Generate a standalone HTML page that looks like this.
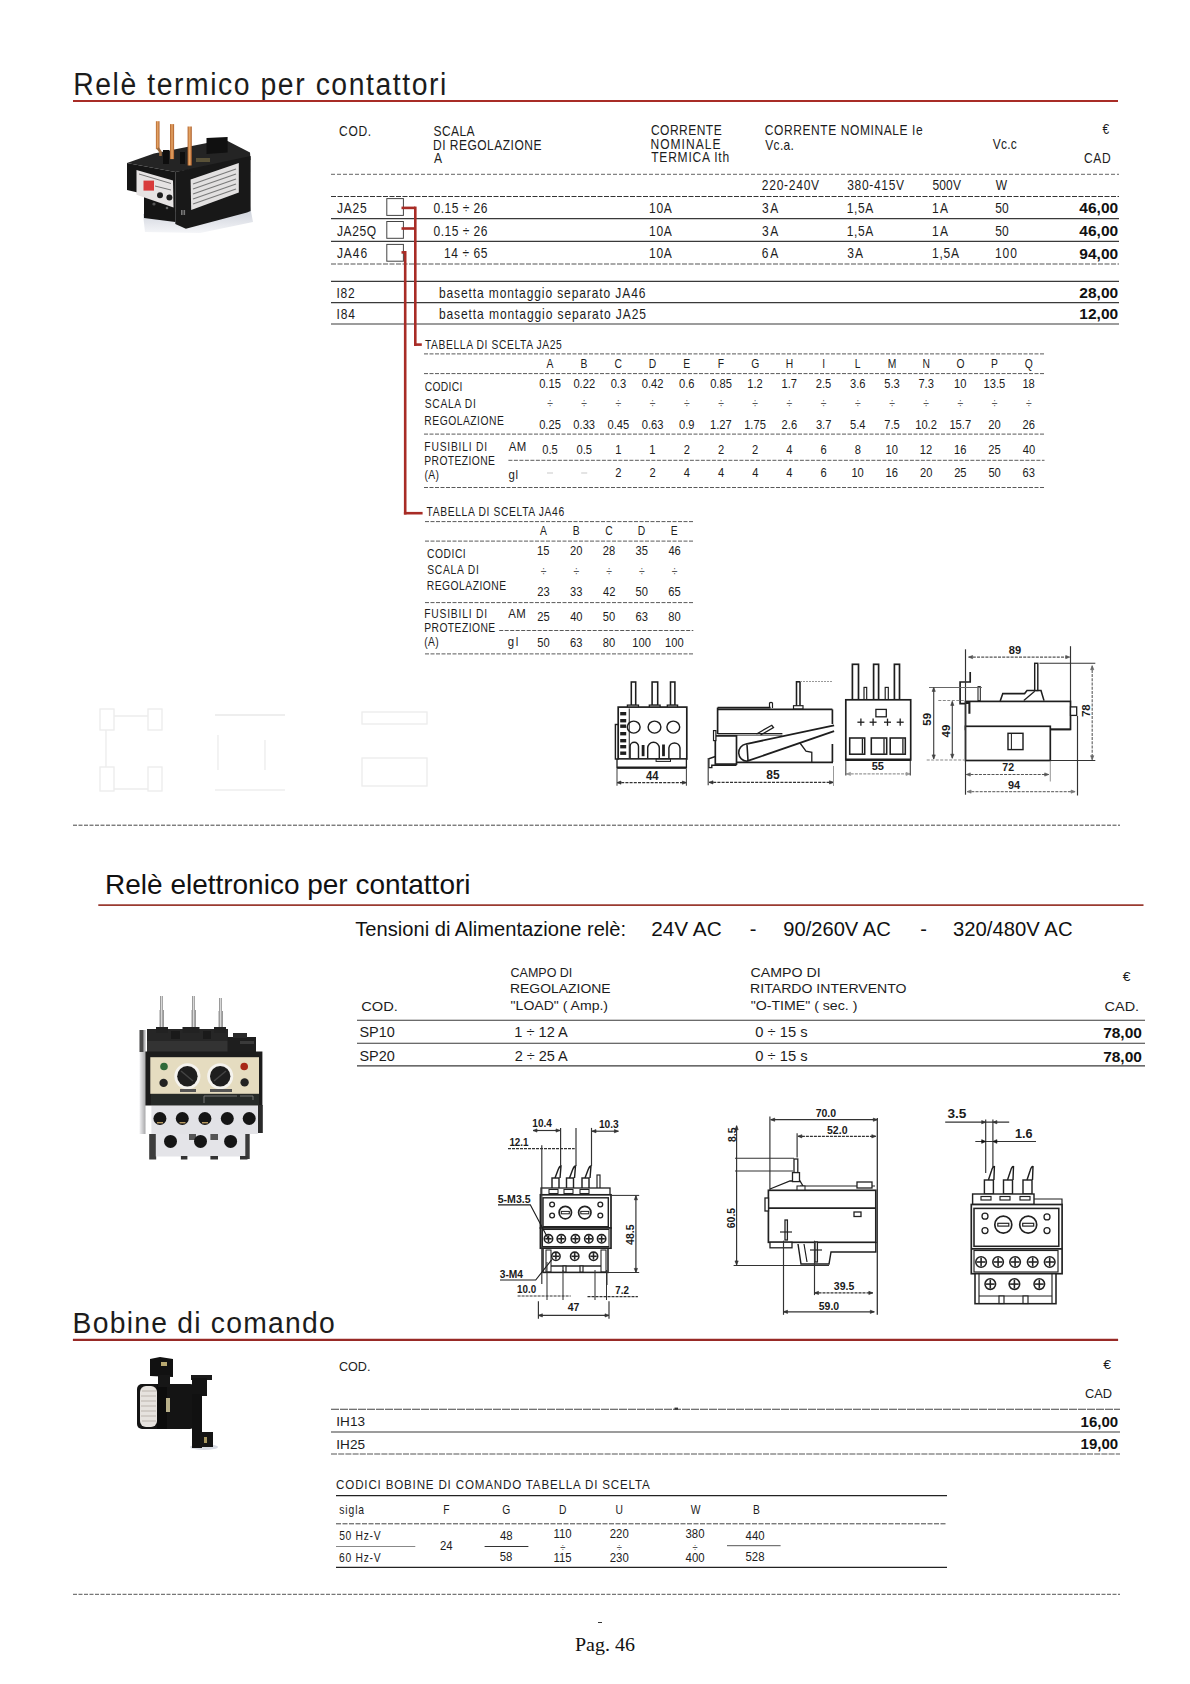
<!DOCTYPE html>
<html lang="it"><head><meta charset="utf-8">
<title>Pag. 46 - Relè termico per contattori</title>
<style>
html,body{margin:0;padding:0;background:#fff;}
body{width:1190px;height:1684px;overflow:hidden;position:relative;font-family:"Liberation Sans",sans-serif;}
svg{position:absolute;left:0;top:0;display:block;}
</style></head><body>
<svg width="1190" height="1684" viewBox="0 0 1190 1684">
<rect x="0" y="0" width="1190" height="1684" fill="#fff"/>
<text transform="translate(73.26 94.80) scale(0.900 1)" style='font-family:"Liberation Sans", sans-serif;font-size:31.50px;letter-spacing:1.74px;' fill="#1c1c1c">Relè termico per contattori</text>
<line x1="73.0" y1="101.0" x2="1118.0" y2="101.0" stroke="#a82c26" stroke-width="2.00"/>
<text transform="translate(339.10 136.20) scale(0.860 1)" style='font-family:"Liberation Sans", sans-serif;font-size:14.00px;letter-spacing:0.73px;' fill="#1c1c1c">COD.</text>
<text transform="translate(433.46 136.20) scale(0.860 1)" style='font-family:"Liberation Sans", sans-serif;font-size:14.00px;letter-spacing:0.46px;' fill="#1c1c1c">SCALA</text>
<text transform="translate(433.01 149.50) scale(0.860 1)" style='font-family:"Liberation Sans", sans-serif;font-size:14.00px;letter-spacing:0.55px;' fill="#1c1c1c">DI REGOLAZIONE</text>
<text transform="translate(433.97 162.90) scale(0.860 1)" style='font-family:"Liberation Sans", sans-serif;font-size:14.00px;' fill="#1c1c1c">A</text>
<text transform="translate(650.90 135.20) scale(0.860 1)" style='font-family:"Liberation Sans", sans-serif;font-size:14.00px;letter-spacing:0.55px;' fill="#1c1c1c">CORRENTE</text>
<text transform="translate(650.51 148.60) scale(0.860 1)" style='font-family:"Liberation Sans", sans-serif;font-size:14.00px;letter-spacing:1.18px;' fill="#1c1c1c">NOMINALE</text>
<text transform="translate(651.23 162.40) scale(0.860 1)" style='font-family:"Liberation Sans", sans-serif;font-size:14.00px;letter-spacing:0.90px;' fill="#1c1c1c">TERMICA Ith</text>
<text transform="translate(764.80 135.20) scale(0.860 1)" style='font-family:"Liberation Sans", sans-serif;font-size:14.00px;letter-spacing:0.66px;' fill="#1c1c1c">CORRENTE  NOMINALE Ie</text>
<text transform="translate(765.34 149.60) scale(0.860 1)" style='font-family:"Liberation Sans", sans-serif;font-size:14.00px;letter-spacing:0.30px;' fill="#1c1c1c">Vc.a.</text>
<text transform="translate(992.74 148.50) scale(0.860 1)" style='font-family:"Liberation Sans", sans-serif;font-size:14.00px;letter-spacing:0.22px;' fill="#1c1c1c">Vc.c</text>
<text transform="translate(1102.41 134.40) scale(0.860 1)" style='font-family:"Liberation Sans", sans-serif;font-size:14.00px;' fill="#1c1c1c">€</text>
<text transform="translate(1083.90 162.80) scale(0.860 1)" style='font-family:"Liberation Sans", sans-serif;font-size:14.00px;letter-spacing:0.84px;' fill="#1c1c1c">CAD</text>
<text transform="translate(761.80 190.20) scale(0.860 1)" style='font-family:"Liberation Sans", sans-serif;font-size:14.00px;letter-spacing:0.85px;' fill="#1c1c1c">220-240V</text>
<text transform="translate(847.15 190.20) scale(0.860 1)" style='font-family:"Liberation Sans", sans-serif;font-size:14.00px;letter-spacing:0.80px;' fill="#1c1c1c">380-415V</text>
<text transform="translate(932.42 190.20) scale(0.860 1)" style='font-family:"Liberation Sans", sans-serif;font-size:14.00px;letter-spacing:0.17px;' fill="#1c1c1c">500V</text>
<text transform="translate(995.74 190.20) scale(0.860 1)" style='font-family:"Liberation Sans", sans-serif;font-size:14.00px;' fill="#1c1c1c">W</text>
<text transform="translate(336.92 212.60) scale(0.860 1)" style='font-family:"Liberation Sans", sans-serif;font-size:14.00px;letter-spacing:0.91px;' fill="#1c1c1c">JA25</text>
<text transform="translate(433.52 212.60) scale(0.860 1)" style='font-family:"Liberation Sans", sans-serif;font-size:14.00px;letter-spacing:0.56px;' fill="#1c1c1c">0.15 ÷ 26</text>
<text transform="translate(649.10 212.60) scale(0.860 1)" style='font-family:"Liberation Sans", sans-serif;font-size:14.00px;letter-spacing:0.70px;' fill="#1c1c1c">10A</text>
<text transform="translate(761.95 212.60) scale(0.860 1)" style='font-family:"Liberation Sans", sans-serif;font-size:14.00px;letter-spacing:1.93px;' fill="#1c1c1c">3A</text>
<text transform="translate(846.70 212.60) scale(0.860 1)" style='font-family:"Liberation Sans", sans-serif;font-size:14.00px;letter-spacing:0.72px;' fill="#1c1c1c">1,5A</text>
<text transform="translate(932.10 212.60) scale(0.860 1)" style='font-family:"Liberation Sans", sans-serif;font-size:14.00px;letter-spacing:1.41px;' fill="#1c1c1c">1A</text>
<text transform="translate(995.32 212.60) scale(0.860 1)" style='font-family:"Liberation Sans", sans-serif;font-size:14.00px;letter-spacing:0.08px;' fill="#1c1c1c">50</text>
<text x="1079.33" y="212.90" style='font-family:"Liberation Sans", sans-serif;font-size:15.50px;font-weight:bold;' fill="#111">46,00</text>
<text transform="translate(336.92 235.60) scale(0.860 1)" style='font-family:"Liberation Sans", sans-serif;font-size:14.00px;letter-spacing:0.68px;' fill="#1c1c1c">JA25Q</text>
<text transform="translate(433.52 235.60) scale(0.860 1)" style='font-family:"Liberation Sans", sans-serif;font-size:14.00px;letter-spacing:0.56px;' fill="#1c1c1c">0.15 ÷ 26</text>
<text transform="translate(649.10 235.60) scale(0.860 1)" style='font-family:"Liberation Sans", sans-serif;font-size:14.00px;letter-spacing:0.70px;' fill="#1c1c1c">10A</text>
<text transform="translate(761.95 235.60) scale(0.860 1)" style='font-family:"Liberation Sans", sans-serif;font-size:14.00px;letter-spacing:1.93px;' fill="#1c1c1c">3A</text>
<text transform="translate(846.70 235.60) scale(0.860 1)" style='font-family:"Liberation Sans", sans-serif;font-size:14.00px;letter-spacing:0.72px;' fill="#1c1c1c">1,5A</text>
<text transform="translate(932.10 235.60) scale(0.860 1)" style='font-family:"Liberation Sans", sans-serif;font-size:14.00px;letter-spacing:1.41px;' fill="#1c1c1c">1A</text>
<text transform="translate(995.32 235.60) scale(0.860 1)" style='font-family:"Liberation Sans", sans-serif;font-size:14.00px;letter-spacing:0.08px;' fill="#1c1c1c">50</text>
<text x="1079.33" y="235.90" style='font-family:"Liberation Sans", sans-serif;font-size:15.50px;font-weight:bold;' fill="#111">46,00</text>
<text transform="translate(336.92 258.30) scale(0.860 1)" style='font-family:"Liberation Sans", sans-serif;font-size:14.00px;letter-spacing:1.07px;' fill="#1c1c1c">JA46</text>
<text transform="translate(444.10 258.30) scale(0.860 1)" style='font-family:"Liberation Sans", sans-serif;font-size:14.00px;letter-spacing:0.64px;' fill="#1c1c1c">14 ÷ 65</text>
<text transform="translate(649.10 258.30) scale(0.860 1)" style='font-family:"Liberation Sans", sans-serif;font-size:14.00px;letter-spacing:0.70px;' fill="#1c1c1c">10A</text>
<text transform="translate(761.80 258.30) scale(0.860 1)" style='font-family:"Liberation Sans", sans-serif;font-size:14.00px;letter-spacing:2.11px;' fill="#1c1c1c">6A</text>
<text transform="translate(847.15 258.30) scale(0.860 1)" style='font-family:"Liberation Sans", sans-serif;font-size:14.00px;letter-spacing:1.35px;' fill="#1c1c1c">3A</text>
<text transform="translate(932.10 258.30) scale(0.860 1)" style='font-family:"Liberation Sans", sans-serif;font-size:14.00px;letter-spacing:0.80px;' fill="#1c1c1c">1,5A</text>
<text transform="translate(994.90 258.30) scale(0.860 1)" style='font-family:"Liberation Sans", sans-serif;font-size:14.00px;letter-spacing:1.09px;' fill="#1c1c1c">100</text>
<text x="1079.33" y="258.60" style='font-family:"Liberation Sans", sans-serif;font-size:15.50px;font-weight:bold;' fill="#111">94,00</text>
<text transform="translate(336.49 297.50) scale(0.860 1)" style='font-family:"Liberation Sans", sans-serif;font-size:14.00px;letter-spacing:0.80px;' fill="#1c1c1c">I82</text>
<text transform="translate(336.49 318.60) scale(0.860 1)" style='font-family:"Liberation Sans", sans-serif;font-size:14.00px;letter-spacing:0.94px;' fill="#1c1c1c">I84</text>
<text transform="translate(438.92 297.50) scale(0.860 1)" style='font-family:"Liberation Sans", sans-serif;font-size:14.00px;letter-spacing:1.03px;' fill="#1c1c1c">basetta montaggio separato JA46</text>
<text transform="translate(438.92 318.60) scale(0.860 1)" style='font-family:"Liberation Sans", sans-serif;font-size:14.00px;letter-spacing:1.05px;' fill="#1c1c1c">basetta montaggio separato JA25</text>
<text x="1079.33" y="297.80" style='font-family:"Liberation Sans", sans-serif;font-size:15.50px;font-weight:bold;' fill="#111">28,00</text>
<text x="1079.33" y="319.00" style='font-family:"Liberation Sans", sans-serif;font-size:15.50px;font-weight:bold;' fill="#111">12,00</text>
<line x1="331.0" y1="174.4" x2="1119.0" y2="174.4" stroke="#666" stroke-width="1.10" stroke-dasharray="4 2" opacity="0.8"/>
<line x1="331.0" y1="196.5" x2="1119.0" y2="196.5" stroke="#333" stroke-width="1.10" stroke-dasharray="5 1.5" opacity="1"/>
<line x1="331.0" y1="218.6" x2="1119.0" y2="218.6" stroke="#3a3a3a" stroke-width="1.10" opacity="1"/>
<line x1="331.0" y1="241.4" x2="1119.0" y2="241.4" stroke="#3a3a3a" stroke-width="1.10" opacity="1"/>
<line x1="331.0" y1="264.0" x2="1119.0" y2="264.0" stroke="#555" stroke-width="1.10" stroke-dasharray="5 1.5" opacity="1"/>
<line x1="331.0" y1="281.4" x2="1119.0" y2="281.4" stroke="#3a3a3a" stroke-width="1.10" opacity="1"/>
<line x1="331.0" y1="302.6" x2="1119.0" y2="302.6" stroke="#3a3a3a" stroke-width="1.10" opacity="1"/>
<line x1="331.0" y1="324.0" x2="1119.0" y2="324.0" stroke="#3a3a3a" stroke-width="1.10" opacity="1"/>
<rect x="386.8" y="198.6" width="16.6" height="16.8" fill="none" stroke="#444" stroke-width="1.00" />
<rect x="386.8" y="221.5" width="16.6" height="16.8" fill="none" stroke="#444" stroke-width="1.00" />
<rect x="386.8" y="244.4" width="16.6" height="16.8" fill="none" stroke="#444" stroke-width="1.00" />
<line x1="401.5" y1="207.9" x2="415.3" y2="207.9" stroke="#a82c26" stroke-width="2.60"/>
<line x1="401.5" y1="228.5" x2="415.3" y2="228.5" stroke="#a82c26" stroke-width="2.60"/>
<line x1="415.3" y1="206.6" x2="415.3" y2="345.9" stroke="#a82c26" stroke-width="2.60"/>
<line x1="414.0" y1="344.6" x2="421.8" y2="344.6" stroke="#a82c26" stroke-width="2.60"/>
<line x1="401.5" y1="252.4" x2="405.2" y2="252.4" stroke="#a82c26" stroke-width="2.60"/>
<line x1="405.2" y1="251.1" x2="405.2" y2="514.5" stroke="#a82c26" stroke-width="2.60"/>
<line x1="403.9" y1="513.2" x2="422.6" y2="513.2" stroke="#a82c26" stroke-width="2.60"/>
<text transform="translate(424.97 348.90) scale(0.860 1)" style='font-family:"Liberation Sans", sans-serif;font-size:12.00px;letter-spacing:0.69px;' fill="#1c1c1c">TABELLA DI SCELTA JA25</text>
<line x1="424.0" y1="353.9" x2="1044.5" y2="353.9" stroke="#5a5a5a" stroke-width="1.00" stroke-dasharray="4 1.5"/>
<line x1="424.0" y1="373.6" x2="1044.5" y2="373.6" stroke="#5a5a5a" stroke-width="1.00" stroke-dasharray="4 1.5"/>
<line x1="424.0" y1="434.1" x2="1044.5" y2="434.1" stroke="#5a5a5a" stroke-width="1.00" stroke-dasharray="4 1.5"/>
<line x1="508.4" y1="460.3" x2="1044.5" y2="460.3" stroke="#5a5a5a" stroke-width="1.00" stroke-dasharray="4 1.5"/>
<line x1="424.0" y1="487.5" x2="1044.5" y2="487.5" stroke="#5a5a5a" stroke-width="1.00" stroke-dasharray="4 1.5"/>
<text transform="translate(546.56 368.30) scale(0.860 1)" style='font-family:"Liberation Sans", sans-serif;font-size:12.00px;' fill="#1c1c1c">A</text>
<text transform="translate(580.60 368.30) scale(0.860 1)" style='font-family:"Liberation Sans", sans-serif;font-size:12.00px;' fill="#1c1c1c">B</text>
<text transform="translate(614.61 368.30) scale(0.860 1)" style='font-family:"Liberation Sans", sans-serif;font-size:12.00px;' fill="#1c1c1c">C</text>
<text transform="translate(648.69 368.30) scale(0.860 1)" style='font-family:"Liberation Sans", sans-serif;font-size:12.00px;' fill="#1c1c1c">D</text>
<text transform="translate(683.15 368.30) scale(0.860 1)" style='font-family:"Liberation Sans", sans-serif;font-size:12.00px;' fill="#1c1c1c">E</text>
<text transform="translate(717.63 368.30) scale(0.860 1)" style='font-family:"Liberation Sans", sans-serif;font-size:12.00px;' fill="#1c1c1c">F</text>
<text transform="translate(751.32 368.30) scale(0.860 1)" style='font-family:"Liberation Sans", sans-serif;font-size:12.00px;' fill="#1c1c1c">G</text>
<text transform="translate(785.67 368.30) scale(0.860 1)" style='font-family:"Liberation Sans", sans-serif;font-size:12.00px;' fill="#1c1c1c">H</text>
<text transform="translate(822.17 368.30) scale(0.860 1)" style='font-family:"Liberation Sans", sans-serif;font-size:12.00px;' fill="#1c1c1c">I</text>
<text transform="translate(854.68 368.30) scale(0.860 1)" style='font-family:"Liberation Sans", sans-serif;font-size:12.00px;' fill="#1c1c1c">L</text>
<text transform="translate(887.70 368.30) scale(0.860 1)" style='font-family:"Liberation Sans", sans-serif;font-size:12.00px;' fill="#1c1c1c">M</text>
<text transform="translate(922.47 368.30) scale(0.860 1)" style='font-family:"Liberation Sans", sans-serif;font-size:12.00px;' fill="#1c1c1c">N</text>
<text transform="translate(956.39 368.30) scale(0.860 1)" style='font-family:"Liberation Sans", sans-serif;font-size:12.00px;' fill="#1c1c1c">O</text>
<text transform="translate(991.00 368.30) scale(0.860 1)" style='font-family:"Liberation Sans", sans-serif;font-size:12.00px;' fill="#1c1c1c">P</text>
<text transform="translate(1024.79 368.30) scale(0.860 1)" style='font-family:"Liberation Sans", sans-serif;font-size:12.00px;' fill="#1c1c1c">Q</text>
<text transform="translate(539.15 388.40) scale(0.930 1)" style='font-family:"Liberation Sans", sans-serif;font-size:12.00px;' fill="#1c1c1c">0.15</text>
<text transform="translate(547.16 408.30) scale(0.860 1)" style='font-family:"Liberation Sans", sans-serif;font-size:12.00px;' fill="#555">÷</text>
<text transform="translate(539.15 428.80) scale(0.930 1)" style='font-family:"Liberation Sans", sans-serif;font-size:12.00px;' fill="#1c1c1c">0.25</text>
<text transform="translate(542.24 453.50) scale(0.930 1)" style='font-family:"Liberation Sans", sans-serif;font-size:12.00px;' fill="#1c1c1c">0.5</text>
<line x1="547.0" y1="473.0" x2="553.0" y2="473.0" stroke="#bbb" stroke-width="0.80"/>
<text transform="translate(573.40 388.40) scale(0.930 1)" style='font-family:"Liberation Sans", sans-serif;font-size:12.00px;' fill="#1c1c1c">0.22</text>
<text transform="translate(581.36 408.30) scale(0.860 1)" style='font-family:"Liberation Sans", sans-serif;font-size:12.00px;' fill="#555">÷</text>
<text transform="translate(573.36 428.80) scale(0.930 1)" style='font-family:"Liberation Sans", sans-serif;font-size:12.00px;' fill="#1c1c1c">0.33</text>
<text transform="translate(576.44 453.50) scale(0.930 1)" style='font-family:"Liberation Sans", sans-serif;font-size:12.00px;' fill="#1c1c1c">0.5</text>
<line x1="581.2" y1="473.0" x2="587.2" y2="473.0" stroke="#bbb" stroke-width="0.80"/>
<text transform="translate(610.66 388.40) scale(0.930 1)" style='font-family:"Liberation Sans", sans-serif;font-size:12.00px;' fill="#1c1c1c">0.3</text>
<text transform="translate(615.56 408.30) scale(0.860 1)" style='font-family:"Liberation Sans", sans-serif;font-size:12.00px;' fill="#555">÷</text>
<text transform="translate(607.55 428.80) scale(0.930 1)" style='font-family:"Liberation Sans", sans-serif;font-size:12.00px;' fill="#1c1c1c">0.45</text>
<text transform="translate(615.15 453.50) scale(0.930 1)" style='font-family:"Liberation Sans", sans-serif;font-size:12.00px;' fill="#1c1c1c">1</text>
<text transform="translate(615.30 476.80) scale(0.930 1)" style='font-family:"Liberation Sans", sans-serif;font-size:12.00px;' fill="#1c1c1c">2</text>
<text transform="translate(641.80 388.40) scale(0.930 1)" style='font-family:"Liberation Sans", sans-serif;font-size:12.00px;' fill="#1c1c1c">0.42</text>
<text transform="translate(649.76 408.30) scale(0.860 1)" style='font-family:"Liberation Sans", sans-serif;font-size:12.00px;' fill="#555">÷</text>
<text transform="translate(641.76 428.80) scale(0.930 1)" style='font-family:"Liberation Sans", sans-serif;font-size:12.00px;' fill="#1c1c1c">0.63</text>
<text transform="translate(649.35 453.50) scale(0.930 1)" style='font-family:"Liberation Sans", sans-serif;font-size:12.00px;' fill="#1c1c1c">1</text>
<text transform="translate(649.50 476.80) scale(0.930 1)" style='font-family:"Liberation Sans", sans-serif;font-size:12.00px;' fill="#1c1c1c">2</text>
<text transform="translate(679.06 388.40) scale(0.930 1)" style='font-family:"Liberation Sans", sans-serif;font-size:12.00px;' fill="#1c1c1c">0.6</text>
<text transform="translate(683.96 408.30) scale(0.860 1)" style='font-family:"Liberation Sans", sans-serif;font-size:12.00px;' fill="#555">÷</text>
<text transform="translate(679.07 428.80) scale(0.930 1)" style='font-family:"Liberation Sans", sans-serif;font-size:12.00px;' fill="#1c1c1c">0.9</text>
<text transform="translate(683.70 453.50) scale(0.930 1)" style='font-family:"Liberation Sans", sans-serif;font-size:12.00px;' fill="#1c1c1c">2</text>
<text transform="translate(683.73 476.80) scale(0.930 1)" style='font-family:"Liberation Sans", sans-serif;font-size:12.00px;' fill="#1c1c1c">4</text>
<text transform="translate(710.15 388.40) scale(0.930 1)" style='font-family:"Liberation Sans", sans-serif;font-size:12.00px;' fill="#1c1c1c">0.85</text>
<text transform="translate(718.16 408.30) scale(0.860 1)" style='font-family:"Liberation Sans", sans-serif;font-size:12.00px;' fill="#555">÷</text>
<text transform="translate(710.01 428.80) scale(0.930 1)" style='font-family:"Liberation Sans", sans-serif;font-size:12.00px;' fill="#1c1c1c">1.27</text>
<text transform="translate(717.90 453.50) scale(0.930 1)" style='font-family:"Liberation Sans", sans-serif;font-size:12.00px;' fill="#1c1c1c">2</text>
<text transform="translate(717.93 476.80) scale(0.930 1)" style='font-family:"Liberation Sans", sans-serif;font-size:12.00px;' fill="#1c1c1c">4</text>
<text transform="translate(747.30 388.40) scale(0.930 1)" style='font-family:"Liberation Sans", sans-serif;font-size:12.00px;' fill="#1c1c1c">1.2</text>
<text transform="translate(752.36 408.30) scale(0.860 1)" style='font-family:"Liberation Sans", sans-serif;font-size:12.00px;' fill="#555">÷</text>
<text transform="translate(744.15 428.80) scale(0.930 1)" style='font-family:"Liberation Sans", sans-serif;font-size:12.00px;' fill="#1c1c1c">1.75</text>
<text transform="translate(752.10 453.50) scale(0.930 1)" style='font-family:"Liberation Sans", sans-serif;font-size:12.00px;' fill="#1c1c1c">2</text>
<text transform="translate(752.13 476.80) scale(0.930 1)" style='font-family:"Liberation Sans", sans-serif;font-size:12.00px;' fill="#1c1c1c">4</text>
<text transform="translate(781.50 388.40) scale(0.930 1)" style='font-family:"Liberation Sans", sans-serif;font-size:12.00px;' fill="#1c1c1c">1.7</text>
<text transform="translate(786.56 408.30) scale(0.860 1)" style='font-family:"Liberation Sans", sans-serif;font-size:12.00px;' fill="#555">÷</text>
<text transform="translate(781.60 428.80) scale(0.930 1)" style='font-family:"Liberation Sans", sans-serif;font-size:12.00px;' fill="#1c1c1c">2.6</text>
<text transform="translate(786.33 453.50) scale(0.930 1)" style='font-family:"Liberation Sans", sans-serif;font-size:12.00px;' fill="#1c1c1c">4</text>
<text transform="translate(786.33 476.80) scale(0.930 1)" style='font-family:"Liberation Sans", sans-serif;font-size:12.00px;' fill="#1c1c1c">4</text>
<text transform="translate(815.79 388.40) scale(0.930 1)" style='font-family:"Liberation Sans", sans-serif;font-size:12.00px;' fill="#1c1c1c">2.5</text>
<text transform="translate(820.76 408.30) scale(0.860 1)" style='font-family:"Liberation Sans", sans-serif;font-size:12.00px;' fill="#555">÷</text>
<text transform="translate(815.91 428.80) scale(0.930 1)" style='font-family:"Liberation Sans", sans-serif;font-size:12.00px;' fill="#1c1c1c">3.7</text>
<text transform="translate(820.46 453.50) scale(0.930 1)" style='font-family:"Liberation Sans", sans-serif;font-size:12.00px;' fill="#1c1c1c">6</text>
<text transform="translate(820.46 476.80) scale(0.930 1)" style='font-family:"Liberation Sans", sans-serif;font-size:12.00px;' fill="#1c1c1c">6</text>
<text transform="translate(850.07 388.40) scale(0.930 1)" style='font-family:"Liberation Sans", sans-serif;font-size:12.00px;' fill="#1c1c1c">3.6</text>
<text transform="translate(854.96 408.30) scale(0.860 1)" style='font-family:"Liberation Sans", sans-serif;font-size:12.00px;' fill="#555">÷</text>
<text transform="translate(849.97 428.80) scale(0.930 1)" style='font-family:"Liberation Sans", sans-serif;font-size:12.00px;' fill="#1c1c1c">5.4</text>
<text transform="translate(854.70 453.50) scale(0.930 1)" style='font-family:"Liberation Sans", sans-serif;font-size:12.00px;' fill="#1c1c1c">8</text>
<text transform="translate(851.40 476.80) scale(0.930 1)" style='font-family:"Liberation Sans", sans-serif;font-size:12.00px;' fill="#1c1c1c">10</text>
<text transform="translate(884.26 388.40) scale(0.930 1)" style='font-family:"Liberation Sans", sans-serif;font-size:12.00px;' fill="#1c1c1c">5.3</text>
<text transform="translate(889.16 408.30) scale(0.860 1)" style='font-family:"Liberation Sans", sans-serif;font-size:12.00px;' fill="#555">÷</text>
<text transform="translate(884.19 428.80) scale(0.930 1)" style='font-family:"Liberation Sans", sans-serif;font-size:12.00px;' fill="#1c1c1c">7.5</text>
<text transform="translate(885.60 453.50) scale(0.930 1)" style='font-family:"Liberation Sans", sans-serif;font-size:12.00px;' fill="#1c1c1c">10</text>
<text transform="translate(885.62 476.80) scale(0.930 1)" style='font-family:"Liberation Sans", sans-serif;font-size:12.00px;' fill="#1c1c1c">16</text>
<text transform="translate(918.40 388.40) scale(0.930 1)" style='font-family:"Liberation Sans", sans-serif;font-size:12.00px;' fill="#1c1c1c">7.3</text>
<text transform="translate(923.36 408.30) scale(0.860 1)" style='font-family:"Liberation Sans", sans-serif;font-size:12.00px;' fill="#555">÷</text>
<text transform="translate(915.21 428.80) scale(0.930 1)" style='font-family:"Liberation Sans", sans-serif;font-size:12.00px;' fill="#1c1c1c">10.2</text>
<text transform="translate(919.87 453.50) scale(0.930 1)" style='font-family:"Liberation Sans", sans-serif;font-size:12.00px;' fill="#1c1c1c">12</text>
<text transform="translate(919.94 476.80) scale(0.930 1)" style='font-family:"Liberation Sans", sans-serif;font-size:12.00px;' fill="#1c1c1c">20</text>
<text transform="translate(954.00 388.40) scale(0.930 1)" style='font-family:"Liberation Sans", sans-serif;font-size:12.00px;' fill="#1c1c1c">10</text>
<text transform="translate(957.56 408.30) scale(0.860 1)" style='font-family:"Liberation Sans", sans-serif;font-size:12.00px;' fill="#555">÷</text>
<text transform="translate(949.41 428.80) scale(0.930 1)" style='font-family:"Liberation Sans", sans-serif;font-size:12.00px;' fill="#1c1c1c">15.7</text>
<text transform="translate(954.02 453.50) scale(0.930 1)" style='font-family:"Liberation Sans", sans-serif;font-size:12.00px;' fill="#1c1c1c">16</text>
<text transform="translate(954.15 476.80) scale(0.930 1)" style='font-family:"Liberation Sans", sans-serif;font-size:12.00px;' fill="#1c1c1c">25</text>
<text transform="translate(983.55 388.40) scale(0.930 1)" style='font-family:"Liberation Sans", sans-serif;font-size:12.00px;' fill="#1c1c1c">13.5</text>
<text transform="translate(991.76 408.30) scale(0.860 1)" style='font-family:"Liberation Sans", sans-serif;font-size:12.00px;' fill="#555">÷</text>
<text transform="translate(988.34 428.80) scale(0.930 1)" style='font-family:"Liberation Sans", sans-serif;font-size:12.00px;' fill="#1c1c1c">20</text>
<text transform="translate(988.35 453.50) scale(0.930 1)" style='font-family:"Liberation Sans", sans-serif;font-size:12.00px;' fill="#1c1c1c">25</text>
<text transform="translate(988.39 476.80) scale(0.930 1)" style='font-family:"Liberation Sans", sans-serif;font-size:12.00px;' fill="#1c1c1c">50</text>
<text transform="translate(1022.42 388.40) scale(0.930 1)" style='font-family:"Liberation Sans", sans-serif;font-size:12.00px;' fill="#1c1c1c">18</text>
<text transform="translate(1025.96 408.30) scale(0.860 1)" style='font-family:"Liberation Sans", sans-serif;font-size:12.00px;' fill="#555">÷</text>
<text transform="translate(1022.56 428.80) scale(0.930 1)" style='font-family:"Liberation Sans", sans-serif;font-size:12.00px;' fill="#1c1c1c">26</text>
<text transform="translate(1022.69 453.50) scale(0.930 1)" style='font-family:"Liberation Sans", sans-serif;font-size:12.00px;' fill="#1c1c1c">40</text>
<text transform="translate(1022.56 476.80) scale(0.930 1)" style='font-family:"Liberation Sans", sans-serif;font-size:12.00px;' fill="#1c1c1c">63</text>
<text transform="translate(424.68 391.00) scale(0.860 1)" style='font-family:"Liberation Sans", sans-serif;font-size:12.00px;letter-spacing:0.34px;' fill="#1c1c1c">CODICI</text>
<text transform="translate(424.74 408.10) scale(0.860 1)" style='font-family:"Liberation Sans", sans-serif;font-size:12.00px;letter-spacing:0.77px;' fill="#1c1c1c">SCALA DI</text>
<text transform="translate(424.35 424.50) scale(0.860 1)" style='font-family:"Liberation Sans", sans-serif;font-size:12.00px;letter-spacing:0.57px;' fill="#1c1c1c">REGOLAZIONE</text>
<text transform="translate(424.35 451.00) scale(0.860 1)" style='font-family:"Liberation Sans", sans-serif;font-size:12.00px;letter-spacing:0.90px;' fill="#1c1c1c">FUSIBILI DI</text>
<text transform="translate(424.35 464.80) scale(0.860 1)" style='font-family:"Liberation Sans", sans-serif;font-size:12.00px;letter-spacing:0.45px;' fill="#1c1c1c">PROTEZIONE</text>
<text transform="translate(424.56 479.20) scale(0.860 1)" style='font-family:"Liberation Sans", sans-serif;font-size:12.00px;letter-spacing:0.36px;' fill="#1c1c1c">(A)</text>
<text transform="translate(508.87 450.60) scale(0.950 1)" style='font-family:"Liberation Sans", sans-serif;font-size:12.00px;letter-spacing:0.28px;' fill="#1c1c1c">AM</text>
<text transform="translate(508.52 479.00) scale(0.950 1)" style='font-family:"Liberation Sans", sans-serif;font-size:12.00px;letter-spacing:0.62px;' fill="#1c1c1c">gl</text>
<text transform="translate(426.57 515.80) scale(0.860 1)" style='font-family:"Liberation Sans", sans-serif;font-size:12.00px;letter-spacing:0.73px;' fill="#1c1c1c">TABELLA DI SCELTA JA46</text>
<line x1="425.0" y1="521.6" x2="693.3" y2="521.6" stroke="#5a5a5a" stroke-width="1.00" stroke-dasharray="4 1.5"/>
<line x1="425.0" y1="541.1" x2="693.3" y2="541.1" stroke="#5a5a5a" stroke-width="1.00" stroke-dasharray="4 1.5"/>
<line x1="425.0" y1="602.6" x2="693.3" y2="602.6" stroke="#5a5a5a" stroke-width="1.00" stroke-dasharray="4 1.5"/>
<line x1="499.2" y1="630.5" x2="693.3" y2="630.5" stroke="#5a5a5a" stroke-width="1.00" stroke-dasharray="4 1.5"/>
<line x1="425.0" y1="653.9" x2="693.3" y2="653.9" stroke="#5a5a5a" stroke-width="1.00" stroke-dasharray="4 1.5"/>
<text transform="translate(540.06 535.40) scale(0.860 1)" style='font-family:"Liberation Sans", sans-serif;font-size:12.00px;' fill="#1c1c1c">A</text>
<text transform="translate(572.65 535.40) scale(0.860 1)" style='font-family:"Liberation Sans", sans-serif;font-size:12.00px;' fill="#1c1c1c">B</text>
<text transform="translate(605.21 535.40) scale(0.860 1)" style='font-family:"Liberation Sans", sans-serif;font-size:12.00px;' fill="#1c1c1c">C</text>
<text transform="translate(637.84 535.40) scale(0.860 1)" style='font-family:"Liberation Sans", sans-serif;font-size:12.00px;' fill="#1c1c1c">D</text>
<text transform="translate(670.85 535.40) scale(0.860 1)" style='font-family:"Liberation Sans", sans-serif;font-size:12.00px;' fill="#1c1c1c">E</text>
<text transform="translate(537.11 555.40) scale(0.930 1)" style='font-family:"Liberation Sans", sans-serif;font-size:12.00px;' fill="#1c1c1c">15</text>
<text transform="translate(540.66 576.40) scale(0.860 1)" style='font-family:"Liberation Sans", sans-serif;font-size:12.00px;' fill="#555">÷</text>
<text transform="translate(537.26 596.10) scale(0.930 1)" style='font-family:"Liberation Sans", sans-serif;font-size:12.00px;' fill="#1c1c1c">23</text>
<text transform="translate(537.25 621.00) scale(0.930 1)" style='font-family:"Liberation Sans", sans-serif;font-size:12.00px;' fill="#1c1c1c">25</text>
<text transform="translate(537.29 646.60) scale(0.930 1)" style='font-family:"Liberation Sans", sans-serif;font-size:12.00px;' fill="#1c1c1c">50</text>
<text transform="translate(569.99 555.40) scale(0.930 1)" style='font-family:"Liberation Sans", sans-serif;font-size:12.00px;' fill="#1c1c1c">20</text>
<text transform="translate(573.41 576.40) scale(0.860 1)" style='font-family:"Liberation Sans", sans-serif;font-size:12.00px;' fill="#555">÷</text>
<text transform="translate(570.08 596.10) scale(0.930 1)" style='font-family:"Liberation Sans", sans-serif;font-size:12.00px;' fill="#1c1c1c">33</text>
<text transform="translate(570.14 621.00) scale(0.930 1)" style='font-family:"Liberation Sans", sans-serif;font-size:12.00px;' fill="#1c1c1c">40</text>
<text transform="translate(570.01 646.60) scale(0.930 1)" style='font-family:"Liberation Sans", sans-serif;font-size:12.00px;' fill="#1c1c1c">63</text>
<text transform="translate(602.76 555.40) scale(0.930 1)" style='font-family:"Liberation Sans", sans-serif;font-size:12.00px;' fill="#1c1c1c">28</text>
<text transform="translate(606.16 576.40) scale(0.860 1)" style='font-family:"Liberation Sans", sans-serif;font-size:12.00px;' fill="#555">÷</text>
<text transform="translate(602.96 596.10) scale(0.930 1)" style='font-family:"Liberation Sans", sans-serif;font-size:12.00px;' fill="#1c1c1c">42</text>
<text transform="translate(602.79 621.00) scale(0.930 1)" style='font-family:"Liberation Sans", sans-serif;font-size:12.00px;' fill="#1c1c1c">50</text>
<text transform="translate(602.78 646.60) scale(0.930 1)" style='font-family:"Liberation Sans", sans-serif;font-size:12.00px;' fill="#1c1c1c">80</text>
<text transform="translate(635.57 555.40) scale(0.930 1)" style='font-family:"Liberation Sans", sans-serif;font-size:12.00px;' fill="#1c1c1c">35</text>
<text transform="translate(638.91 576.40) scale(0.860 1)" style='font-family:"Liberation Sans", sans-serif;font-size:12.00px;' fill="#555">÷</text>
<text transform="translate(635.54 596.10) scale(0.930 1)" style='font-family:"Liberation Sans", sans-serif;font-size:12.00px;' fill="#1c1c1c">50</text>
<text transform="translate(635.51 621.00) scale(0.930 1)" style='font-family:"Liberation Sans", sans-serif;font-size:12.00px;' fill="#1c1c1c">63</text>
<text transform="translate(632.24 646.60) scale(0.930 1)" style='font-family:"Liberation Sans", sans-serif;font-size:12.00px;' fill="#1c1c1c">100</text>
<text transform="translate(668.42 555.40) scale(0.930 1)" style='font-family:"Liberation Sans", sans-serif;font-size:12.00px;' fill="#1c1c1c">46</text>
<text transform="translate(671.66 576.40) scale(0.860 1)" style='font-family:"Liberation Sans", sans-serif;font-size:12.00px;' fill="#555">÷</text>
<text transform="translate(668.25 596.10) scale(0.930 1)" style='font-family:"Liberation Sans", sans-serif;font-size:12.00px;' fill="#1c1c1c">65</text>
<text transform="translate(668.28 621.00) scale(0.930 1)" style='font-family:"Liberation Sans", sans-serif;font-size:12.00px;' fill="#1c1c1c">80</text>
<text transform="translate(664.99 646.60) scale(0.930 1)" style='font-family:"Liberation Sans", sans-serif;font-size:12.00px;' fill="#1c1c1c">100</text>
<text transform="translate(427.08 558.00) scale(0.860 1)" style='font-family:"Liberation Sans", sans-serif;font-size:12.00px;letter-spacing:0.59px;' fill="#1c1c1c">CODICI</text>
<text transform="translate(427.14 573.70) scale(0.860 1)" style='font-family:"Liberation Sans", sans-serif;font-size:12.00px;letter-spacing:0.86px;' fill="#1c1c1c">SCALA DI</text>
<text transform="translate(426.75 590.10) scale(0.860 1)" style='font-family:"Liberation Sans", sans-serif;font-size:12.00px;letter-spacing:0.56px;' fill="#1c1c1c">REGOLAZIONE</text>
<text transform="translate(424.15 618.00) scale(0.860 1)" style='font-family:"Liberation Sans", sans-serif;font-size:12.00px;letter-spacing:0.92px;' fill="#1c1c1c">FUSIBILI DI</text>
<text transform="translate(424.15 631.80) scale(0.860 1)" style='font-family:"Liberation Sans", sans-serif;font-size:12.00px;letter-spacing:0.52px;' fill="#1c1c1c">PROTEZIONE</text>
<text transform="translate(424.36 646.00) scale(0.860 1)" style='font-family:"Liberation Sans", sans-serif;font-size:12.00px;letter-spacing:0.30px;' fill="#1c1c1c">(A)</text>
<text transform="translate(508.27 618.00) scale(0.950 1)" style='font-family:"Liberation Sans", sans-serif;font-size:12.00px;letter-spacing:0.28px;' fill="#1c1c1c">AM</text>
<text transform="translate(507.82 646.00) scale(0.950 1)" style='font-family:"Liberation Sans", sans-serif;font-size:12.00px;letter-spacing:1.57px;' fill="#1c1c1c">gl</text>
<rect x="631.3" y="682.0" width="4.4" height="23.5" fill="#fff" stroke="#1e1e1e" stroke-width="1.56" />
<rect x="627.4" y="705.1" width="11.1" height="2.6" fill="#fff" stroke="#1e1e1e" stroke-width="1.30" />
<rect x="652.1" y="682.0" width="5.6" height="23.5" fill="#fff" stroke="#1e1e1e" stroke-width="1.56" />
<rect x="649.3" y="705.1" width="10.8" height="2.6" fill="#fff" stroke="#1e1e1e" stroke-width="1.30" />
<rect x="670.5" y="682.0" width="4.4" height="23.5" fill="#fff" stroke="#1e1e1e" stroke-width="1.56" />
<rect x="667.3" y="705.1" width="10.3" height="2.6" fill="#fff" stroke="#1e1e1e" stroke-width="1.30" />
<rect x="618.2" y="707.1" width="68.6" height="51.9" fill="#fff" stroke="#1e1e1e" stroke-width="1.69" />
<rect x="617.0" y="759.0" width="69.4" height="8.8" fill="#fff" stroke="#1e1e1e" stroke-width="1.30" />
<line x1="617.0" y1="767.6" x2="686.4" y2="767.6" stroke="#1e1e1e" stroke-width="2.08"/>
<line x1="629.3" y1="708.5" x2="629.3" y2="758.5" stroke="#444" stroke-width="1.17"/>
<rect x="615.4" y="724.5" width="2.6" height="34.5" fill="#fff" stroke="#1e1e1e" stroke-width="1.43" />
<rect x="620.2" y="712.0" width="6.0" height="3.4" fill="#1e1e1e" rx="rx="1"" />
<rect x="620.2" y="719.0" width="6.0" height="3.4" fill="#1e1e1e" rx="rx="1"" />
<rect x="620.2" y="724.5" width="6.0" height="3.4" fill="#1e1e1e" rx="rx="1"" />
<rect x="620.2" y="732.0" width="6.0" height="3.4" fill="#1e1e1e" rx="rx="1"" />
<rect x="620.2" y="739.0" width="6.0" height="3.4" fill="#1e1e1e" rx="rx="1"" />
<rect x="620.2" y="745.0" width="6.0" height="3.4" fill="#1e1e1e" rx="rx="1"" />
<rect x="620.2" y="751.5" width="6.0" height="3.4" fill="#1e1e1e" rx="rx="1"" />
<ellipse cx="633.7" cy="727.1" rx="6.4" ry="6" fill="none" stroke="#1e1e1e" stroke-width="1.43"/>
<ellipse cx="654.5" cy="727.1" rx="6.4" ry="6" fill="none" stroke="#1e1e1e" stroke-width="1.43"/>
<ellipse cx="673.3" cy="727.1" rx="6.4" ry="6" fill="none" stroke="#1e1e1e" stroke-width="1.43"/>
<path d="M630.1 758.5 L630.1 746.4 A4.2 4.2 0 0 1 638.5 746.4 L638.5 758.5" fill="none" stroke="#1e1e1e" stroke-width="1.43" />
<path d="M647.7 758.5 L647.7 748.0 A5.8 5.8 0 0 1 659.3 748.0 L659.3 758.5" fill="none" stroke="#1e1e1e" stroke-width="1.43" />
<path d="M668.9 758.5 L668.9 747.8 A5.6 5.6 0 0 1 680.0 747.8 L680.0 758.5" fill="none" stroke="#1e1e1e" stroke-width="1.43" />
<rect x="641.7" y="745.0" width="2.8" height="11.2" fill="#1e1e1e" />
<rect x="662.1" y="744.5" width="2.8" height="11.7" fill="#1e1e1e" />
<rect x="656.1" y="759.2" width="14.4" height="2.2" fill="#fff" stroke="#1e1e1e" stroke-width="1.04" />
<line x1="617.0" y1="782.6" x2="686.4" y2="782.6" stroke="#333" stroke-width="1.17" stroke-dasharray="3 1.2"/>
<path d="M617.0 782.6 l4 -1.6 l0 3.2 z" fill="#333" stroke="#333" stroke-width="0.65" />
<path d="M686.4 782.6 l-4 -1.6 l0 3.2 z" fill="#333" stroke="#333" stroke-width="0.65" />
<line x1="617.0" y1="768.6" x2="617.0" y2="785.8" stroke="#444" stroke-width="1.04"/>
<line x1="686.4" y1="768.6" x2="686.4" y2="785.8" stroke="#444" stroke-width="1.04"/>
<text x="645.93" y="779.60" style='font-family:"Liberation Sans", sans-serif;font-size:12.00px;font-weight:bold;' fill="#1c1c1c" textLength="12.55" lengthAdjust="spacingAndGlyphs">44</text>
<rect x="796.5" y="681.8" width="3.5" height="25.0" fill="#fff" stroke="#1e1e1e" stroke-width="1.56" />
<rect x="793.5" y="705.7" width="9.5" height="3.4" fill="#fff" stroke="#1e1e1e" stroke-width="1.17" />
<line x1="800.0" y1="681.4" x2="833.0" y2="681.4" stroke="#999" stroke-width="1.04" stroke-dasharray="2 1"/>
<line x1="717.6" y1="707.6" x2="770.6" y2="707.6" stroke="#1e1e1e" stroke-width="1.69"/>
<path d="M769.5 707.6 L769.5 703 Q771 701.8 772.5 703 L772.5 708" fill="none" stroke="#1e1e1e" stroke-width="1.17" />
<line x1="717.6" y1="709.4" x2="832.4" y2="709.4" stroke="#1e1e1e" stroke-width="1.82"/>
<line x1="717.6" y1="707.6" x2="717.6" y2="734.0" stroke="#1e1e1e" stroke-width="1.69"/>
<line x1="832.4" y1="709.4" x2="832.4" y2="724.0" stroke="#1e1e1e" stroke-width="1.69"/>
<line x1="832.4" y1="744.0" x2="832.4" y2="762.0" stroke="#1e1e1e" stroke-width="1.69"/>
<line x1="717.6" y1="733.6" x2="782.4" y2="733.6" stroke="#1e1e1e" stroke-width="1.43"/>
<line x1="717.6" y1="735.2" x2="782.4" y2="735.2" stroke="#555" stroke-width="1.04"/>
<path d="M756.5 734 L771.8 725.3 L773.5 727.5 L760.5 735" fill="none" stroke="#1e1e1e" stroke-width="1.30" />
<rect x="715.3" y="735.9" width="21.2" height="28.2" fill="#fff" stroke="#1e1e1e" stroke-width="1.69" />
<line x1="736.5" y1="762.4" x2="833.0" y2="762.4" stroke="#1e1e1e" stroke-width="1.82"/>
<path d="M745.9 744.1 L834.1 725.3" fill="none" stroke="#1e1e1e" stroke-width="1.82" />
<path d="M747 761.2 L834.1 731.2" fill="none" stroke="#1e1e1e" stroke-width="1.82" />
<path d="M745.9 744.1 A8.5 8.6 0 0 0 747 761.2" fill="none" stroke="#1e1e1e" stroke-width="1.56" />
<line x1="747.0" y1="745.0" x2="748.0" y2="760.0" stroke="#1e1e1e" stroke-width="1.56"/>
<path d="M800 743 L806 751.2 L811.8 752.4 L811.8 763" fill="none" stroke="#1e1e1e" stroke-width="1.30" />
<path d="M715.3 756.5 L708.8 758.8 L708.8 767.6 L711.8 767.6 L711.8 765.3 L736.5 765.3" fill="none" stroke="#1e1e1e" stroke-width="1.43" />
<rect x="713.5" y="730.6" width="2.4" height="10.0" fill="#fff" stroke="#1e1e1e" stroke-width="1.17" />
<line x1="709.0" y1="782.4" x2="833.5" y2="782.4" stroke="#333" stroke-width="1.17" stroke-dasharray="3 1.2"/>
<path d="M709.0 782.4 l4 -1.6 l0 3.2 z" fill="#333" stroke="#333" stroke-width="0.65" />
<path d="M833.5 782.4 l-4 -1.6 l0 3.2 z" fill="#333" stroke="#333" stroke-width="0.65" />
<line x1="708.2" y1="758.0" x2="708.2" y2="785.3" stroke="#444" stroke-width="1.17"/>
<line x1="833.5" y1="766.0" x2="833.5" y2="786.0" stroke="#999" stroke-width="1.04"/>
<text x="766.21" y="779.00" style='font-family:"Liberation Sans", sans-serif;font-size:12.00px;font-weight:bold;' fill="#1c1c1c">85</text>
<rect x="852.4" y="664.3" width="6.1" height="35.5" fill="#fff" stroke="#1e1e1e" stroke-width="1.69" />
<rect x="873.6" y="664.3" width="5.0" height="35.5" fill="#fff" stroke="#1e1e1e" stroke-width="1.69" />
<rect x="894.4" y="664.3" width="5.1" height="35.5" fill="#fff" stroke="#1e1e1e" stroke-width="1.69" />
<rect x="864.0" y="687.4" width="2.7" height="12.4" fill="#fff" stroke="#1e1e1e" stroke-width="1.17" />
<rect x="885.2" y="687.4" width="3.1" height="12.4" fill="#fff" stroke="#1e1e1e" stroke-width="1.17" />
<rect x="845.8" y="699.8" width="64.9" height="60.2" fill="#fff" stroke="#1e1e1e" stroke-width="1.69" />
<line x1="845.8" y1="759.8" x2="910.7" y2="759.8" stroke="#1e1e1e" stroke-width="2.60"/>
<rect x="875.9" y="709.4" width="10.4" height="7.4" fill="#fff" stroke="#1e1e1e" stroke-width="1.30" />
<line x1="857.4" y1="722.2" x2="864.4" y2="722.2" stroke="#1e1e1e" stroke-width="1.30"/>
<line x1="860.9" y1="718.6" x2="860.9" y2="725.8" stroke="#1e1e1e" stroke-width="1.30"/>
<line x1="869.6" y1="722.2" x2="876.6" y2="722.2" stroke="#1e1e1e" stroke-width="1.30"/>
<line x1="873.1" y1="718.6" x2="873.1" y2="725.8" stroke="#1e1e1e" stroke-width="1.30"/>
<line x1="884.0" y1="722.2" x2="891.0" y2="722.2" stroke="#1e1e1e" stroke-width="1.30"/>
<line x1="887.5" y1="718.6" x2="887.5" y2="725.8" stroke="#1e1e1e" stroke-width="1.30"/>
<line x1="896.7" y1="722.2" x2="903.7" y2="722.2" stroke="#1e1e1e" stroke-width="1.30"/>
<line x1="900.2" y1="718.6" x2="900.2" y2="725.8" stroke="#1e1e1e" stroke-width="1.30"/>
<rect x="849.7" y="738.0" width="15.0" height="16.2" fill="#fff" stroke="#1e1e1e" stroke-width="1.56" />
<line x1="862.4" y1="738.5" x2="862.4" y2="753.7" stroke="#1e1e1e" stroke-width="1.30"/>
<rect x="871.3" y="738.0" width="15.4" height="16.2" fill="#fff" stroke="#1e1e1e" stroke-width="1.56" />
<line x1="884.0" y1="738.5" x2="884.0" y2="753.7" stroke="#1e1e1e" stroke-width="1.30"/>
<rect x="890.2" y="738.0" width="15.1" height="16.2" fill="#fff" stroke="#1e1e1e" stroke-width="1.56" />
<line x1="902.9" y1="738.5" x2="902.9" y2="753.7" stroke="#1e1e1e" stroke-width="1.30"/>
<line x1="846.5" y1="773.9" x2="910.0" y2="773.9" stroke="#999" stroke-width="1.17" stroke-dasharray="3 1.2"/>
<path d="M846.5 773.9 l4 -1.6 l0 3.2 z" fill="#999" stroke="#999" stroke-width="0.65" />
<path d="M910.0 773.9 l-4 -1.6 l0 3.2 z" fill="#999" stroke="#999" stroke-width="0.65" />
<line x1="845.8" y1="761.0" x2="845.8" y2="775.4" stroke="#444" stroke-width="1.17"/>
<line x1="910.3" y1="761.0" x2="910.3" y2="775.4" stroke="#444" stroke-width="1.17"/>
<text x="871.67" y="770.00" style='font-family:"Liberation Sans", sans-serif;font-size:11.50px;font-weight:bold;' fill="#1c1c1c" textLength="12.26" lengthAdjust="spacingAndGlyphs">55</text>
<rect x="965.5" y="701.4" width="105.0" height="28.0" fill="#fff" stroke="#1e1e1e" stroke-width="1.69" />
<rect x="965.5" y="726.3" width="84.8" height="34.2" fill="#fff" stroke="#1e1e1e" stroke-width="1.69" />
<line x1="1050.3" y1="729.4" x2="1070.5" y2="729.4" stroke="#1e1e1e" stroke-width="1.69"/>
<rect x="1008.0" y="733.3" width="15.0" height="16.3" fill="#fff" stroke="#1e1e1e" stroke-width="1.43" />
<line x1="1011.4" y1="733.8" x2="1011.4" y2="749.2" stroke="#1e1e1e" stroke-width="1.04"/>
<path d="M1000.2 701 L1002.8 693.6 L1024.6 693.6 L1027 690.5 L1041 690.5 L1044 700.6" fill="none" stroke="#1e1e1e" stroke-width="1.56" />
<line x1="1023.8" y1="700.6" x2="1034.7" y2="691.3" stroke="#1e1e1e" stroke-width="1.30"/>
<rect x="1034.7" y="663.3" width="3.1" height="27.2" fill="#fff" stroke="#1e1e1e" stroke-width="1.43" />
<path d="M970.2 671.9 L970.2 682 L960.1 682 L960.1 703.7 L965.5 703.7" fill="none" stroke="#1e1e1e" stroke-width="1.69" />
<path d="M965.5 703 L969.4 703 L969.4 713.8" fill="none" stroke="#1e1e1e" stroke-width="2.08" />
<rect x="978.0" y="686.6" width="2.3" height="14.0" fill="#fff" stroke="#1e1e1e" stroke-width="1.04" />
<rect x="1070.5" y="706.9" width="6.2" height="8.5" fill="#fff" stroke="#1e1e1e" stroke-width="1.30" />
<line x1="965.5" y1="649.3" x2="965.5" y2="794.7" stroke="#333" stroke-width="1.17"/>
<line x1="1070.5" y1="646.2" x2="1070.5" y2="701.0" stroke="#333" stroke-width="1.17"/>
<line x1="968.6" y1="657.1" x2="1069.7" y2="657.1" stroke="#555" stroke-width="1.17" stroke-dasharray="3 1.2"/>
<path d="M968.6 657.1 l4 -1.6 l0 3.2 z" fill="#555" stroke="#555" stroke-width="0.65" />
<path d="M1069.7 657.1 l-4 -1.6 l0 3.2 z" fill="#555" stroke="#555" stroke-width="0.65" />
<text x="1008.74" y="654.30" style='font-family:"Liberation Sans", sans-serif;font-size:11.50px;font-weight:bold;' fill="#1c1c1c" textLength="12.38" lengthAdjust="spacingAndGlyphs">89</text>
<line x1="1039.4" y1="663.3" x2="1095.3" y2="663.3" stroke="#333" stroke-width="1.04"/>
<line x1="1050.3" y1="760.5" x2="1095.3" y2="760.5" stroke="#333" stroke-width="1.04"/>
<line x1="1092.2" y1="665.7" x2="1092.2" y2="759.7" stroke="#666" stroke-width="1.17" stroke-dasharray="3 1.2"/>
<path d="M1092.2 665.7 l-1.6 4 l3.2 0 z" fill="#666" stroke="#666" stroke-width="0.65" />
<path d="M1092.2 759.7 l-1.6 -4 l3.2 0 z" fill="#666" stroke="#666" stroke-width="0.65" />
<text x="1086.4" y="714.7" transform="rotate(-90 1086.4 710.7)" style='font-family:"Liberation Sans",sans-serif;font-size:11.5px;font-weight:bold' fill="#1a1a1a" text-anchor="middle">78</text>
<line x1="929.0" y1="687.4" x2="981.9" y2="687.4" stroke="#666" stroke-width="1.04"/>
<line x1="926.7" y1="760.0" x2="964.0" y2="760.0" stroke="#888" stroke-width="1.04" stroke-dasharray="3 1.5"/>
<line x1="933.7" y1="687.4" x2="933.7" y2="758.9" stroke="#444" stroke-width="1.17"/>
<path d="M933.7 687.4 l-1.6 4 l3.2 0 z" fill="#444" stroke="#444" stroke-width="0.65" />
<path d="M933.7 758.9 l-1.6 -4 l3.2 0 z" fill="#444" stroke="#444" stroke-width="0.65" />
<text x="926.6" y="723.3" transform="rotate(-90 926.6 719.3)" style='font-family:"Liberation Sans",sans-serif;font-size:11.5px;font-weight:bold' fill="#1a1a1a" text-anchor="middle">59</text>
<line x1="938.3" y1="700.6" x2="964.8" y2="700.6" stroke="#888" stroke-width="1.04" stroke-dasharray="3 1.5"/>
<line x1="952.3" y1="701.4" x2="952.3" y2="758.2" stroke="#444" stroke-width="1.17"/>
<path d="M952.3 701.4 l-1.6 4 l3.2 0 z" fill="#444" stroke="#444" stroke-width="0.65" />
<path d="M952.3 758.2 l-1.6 -4 l3.2 0 z" fill="#444" stroke="#444" stroke-width="0.65" />
<text x="946.1" y="735.0" transform="rotate(-90 946.1 731.0)" style='font-family:"Liberation Sans",sans-serif;font-size:11.5px;font-weight:bold' fill="#1a1a1a" text-anchor="middle">49</text>
<line x1="966.3" y1="774.5" x2="1048.7" y2="774.5" stroke="#555" stroke-width="1.17" stroke-dasharray="3 1.2"/>
<path d="M966.3 774.5 l4 -1.6 l0 3.2 z" fill="#555" stroke="#555" stroke-width="0.65" />
<path d="M1048.7 774.5 l-4 -1.6 l0 3.2 z" fill="#555" stroke="#555" stroke-width="0.65" />
<line x1="1050.3" y1="761.0" x2="1050.3" y2="781.5" stroke="#999" stroke-width="1.04"/>
<text x="1002.35" y="771.40" style='font-family:"Liberation Sans", sans-serif;font-size:11.50px;font-weight:bold;' fill="#1c1c1c" textLength="11.77" lengthAdjust="spacingAndGlyphs">72</text>
<line x1="967.1" y1="791.6" x2="1075.1" y2="791.6" stroke="#777" stroke-width="1.17" stroke-dasharray="3 1.2"/>
<path d="M967.1 791.6 l4 -1.6 l0 3.2 z" fill="#777" stroke="#777" stroke-width="0.65" />
<path d="M1075.1 791.6 l-4 -1.6 l0 3.2 z" fill="#777" stroke="#777" stroke-width="0.65" />
<line x1="1077.5" y1="716.0" x2="1077.5" y2="795.5" stroke="#333" stroke-width="1.17"/>
<text x="1007.92" y="789.00" style='font-family:"Liberation Sans", sans-serif;font-size:11.50px;font-weight:bold;' fill="#1c1c1c" textLength="12.16" lengthAdjust="spacingAndGlyphs">94</text>
<rect x="100.0" y="709.0" width="14.0" height="21.0" fill="none" stroke="#ececec" stroke-width="1.30" />
<rect x="148.0" y="709.0" width="14.0" height="21.0" fill="none" stroke="#ececec" stroke-width="1.30" />
<rect x="100.0" y="767.0" width="14.0" height="24.0" fill="none" stroke="#ececec" stroke-width="1.30" />
<rect x="148.0" y="767.0" width="14.0" height="24.0" fill="none" stroke="#ececec" stroke-width="1.30" />
<line x1="114.0" y1="716.0" x2="148.0" y2="716.0" stroke="#ececec" stroke-width="1.30"/>
<line x1="114.0" y1="789.0" x2="148.0" y2="789.0" stroke="#ececec" stroke-width="1.30"/>
<line x1="106.0" y1="730.0" x2="106.0" y2="767.0" stroke="#ececec" stroke-width="1.30"/>
<line x1="215.0" y1="715.0" x2="285.0" y2="715.0" stroke="#eeeeee" stroke-width="1.95"/>
<line x1="215.0" y1="790.0" x2="285.0" y2="790.0" stroke="#eeeeee" stroke-width="1.30"/>
<line x1="218.0" y1="735.0" x2="218.0" y2="770.0" stroke="#ececec" stroke-width="1.30"/>
<line x1="265.0" y1="740.0" x2="265.0" y2="770.0" stroke="#ececec" stroke-width="1.30"/>
<rect x="362.0" y="712.0" width="65.0" height="12.0" fill="none" stroke="#ececec" stroke-width="1.30" />
<rect x="362.0" y="758.0" width="65.0" height="28.0" fill="none" stroke="#ececec" stroke-width="1.30" />
<rect x="552.0" y="1178.0" width="7.0" height="14.0" fill="#fff" stroke="#222" stroke-width="1.43" />
<path d="M555.0 1178 L558.0 1170 Q559.5 1166 561.0 1166 L560.0 1178" fill="none" stroke="#1e1e1e" stroke-width="1.43" />
<rect x="566.5" y="1178.0" width="7.0" height="14.0" fill="#fff" stroke="#222" stroke-width="1.43" />
<path d="M569.5 1178 L572.5 1170 Q574.0 1166 575.5 1166 L574.5 1178" fill="none" stroke="#1e1e1e" stroke-width="1.43" />
<rect x="582.0" y="1178.0" width="7.0" height="14.0" fill="#fff" stroke="#222" stroke-width="1.43" />
<path d="M585.0 1178 L588.0 1170 Q589.5 1166 591.0 1166 L590.0 1178" fill="none" stroke="#1e1e1e" stroke-width="1.43" />
<rect x="597.0" y="1175.0" width="3.0" height="14.0" fill="#fff" stroke="#222" stroke-width="1.17" />
<rect x="541.0" y="1188.0" width="69.0" height="7.0" fill="#fff" stroke="#222" stroke-width="1.30" />
<rect x="549.0" y="1189.5" width="9.0" height="4.0" fill="#fff" stroke="#222" stroke-width="1.04" />
<rect x="564.0" y="1189.5" width="9.0" height="4.0" fill="#fff" stroke="#222" stroke-width="1.04" />
<rect x="580.0" y="1189.5" width="9.0" height="4.0" fill="#fff" stroke="#222" stroke-width="1.04" />
<rect x="540.4" y="1194.8" width="70.6" height="33.2" fill="#fff" stroke="#222" stroke-width="1.69" />
<rect x="543.0" y="1197.8" width="65.3" height="28.9" fill="none" stroke="#222" stroke-width="1.43" />
<circle cx="565.3" cy="1212.6" r="6.2" fill="#fff" stroke="#222" stroke-width="1.69"/>
<rect x="561.3" y="1211.4" width="8.0" height="2.4" fill="none" stroke="#222" stroke-width="1.04" />
<circle cx="584.8" cy="1212.6" r="6.2" fill="#fff" stroke="#222" stroke-width="1.69"/>
<rect x="580.8" y="1211.4" width="8.0" height="2.4" fill="none" stroke="#222" stroke-width="1.04" />
<circle cx="552.1" cy="1204.5" r="2.4" fill="none" stroke="#222" stroke-width="1.30"/>
<circle cx="552.1" cy="1215.5" r="2.4" fill="none" stroke="#222" stroke-width="1.30"/>
<circle cx="600.3" cy="1204.5" r="2.4" fill="none" stroke="#222" stroke-width="1.30"/>
<circle cx="600.3" cy="1215.5" r="2.4" fill="none" stroke="#222" stroke-width="1.30"/>
<rect x="540.4" y="1228.0" width="70.6" height="20.2" fill="#fff" stroke="#222" stroke-width="1.69" />
<rect x="542.5" y="1229.5" width="66.5" height="17.0" fill="none" stroke="#222" stroke-width="1.04" />
<circle cx="548.5" cy="1238.8" r="4.2" fill="#fff" stroke="#222" stroke-width="1.56"/>
<line x1="545.3" y1="1238.8" x2="551.7" y2="1238.8" stroke="#222" stroke-width="1.56"/>
<line x1="548.5" y1="1235.6" x2="548.5" y2="1242.0" stroke="#222" stroke-width="1.56"/>
<circle cx="561.3" cy="1238.8" r="4.2" fill="#fff" stroke="#222" stroke-width="1.56"/>
<line x1="558.1" y1="1238.8" x2="564.5" y2="1238.8" stroke="#222" stroke-width="1.56"/>
<line x1="561.3" y1="1235.6" x2="561.3" y2="1242.0" stroke="#222" stroke-width="1.56"/>
<circle cx="575.4" cy="1238.8" r="4.2" fill="#fff" stroke="#222" stroke-width="1.56"/>
<line x1="572.2" y1="1238.8" x2="578.6" y2="1238.8" stroke="#222" stroke-width="1.56"/>
<line x1="575.4" y1="1235.6" x2="575.4" y2="1242.0" stroke="#222" stroke-width="1.56"/>
<circle cx="588.8" cy="1238.8" r="4.2" fill="#fff" stroke="#222" stroke-width="1.56"/>
<line x1="585.6" y1="1238.8" x2="592.0" y2="1238.8" stroke="#222" stroke-width="1.56"/>
<line x1="588.8" y1="1235.6" x2="588.8" y2="1242.0" stroke="#222" stroke-width="1.56"/>
<circle cx="601.6" cy="1238.8" r="4.2" fill="#fff" stroke="#222" stroke-width="1.56"/>
<line x1="598.4" y1="1238.8" x2="604.8" y2="1238.8" stroke="#222" stroke-width="1.56"/>
<line x1="601.6" y1="1235.6" x2="601.6" y2="1242.0" stroke="#222" stroke-width="1.56"/>
<rect x="543.0" y="1248.2" width="65.0" height="24.2" fill="#fff" stroke="#222" stroke-width="1.56" />
<rect x="546.0" y="1250.0" width="5.0" height="22.0" fill="none" stroke="#222" stroke-width="1.04" />
<rect x="601.0" y="1250.0" width="5.0" height="22.0" fill="none" stroke="#222" stroke-width="1.04" />
<line x1="551.0" y1="1266.0" x2="601.0" y2="1266.0" stroke="#222" stroke-width="1.30"/>
<circle cx="555.9" cy="1256.3" r="4.2" fill="#fff" stroke="#222" stroke-width="1.56"/>
<line x1="552.7" y1="1256.3" x2="559.1" y2="1256.3" stroke="#222" stroke-width="1.56"/>
<line x1="555.9" y1="1253.1" x2="555.9" y2="1259.5" stroke="#222" stroke-width="1.56"/>
<circle cx="574.7" cy="1256.3" r="4.2" fill="#fff" stroke="#222" stroke-width="1.56"/>
<line x1="571.5" y1="1256.3" x2="577.9" y2="1256.3" stroke="#222" stroke-width="1.56"/>
<line x1="574.7" y1="1253.1" x2="574.7" y2="1259.5" stroke="#222" stroke-width="1.56"/>
<circle cx="593.5" cy="1256.3" r="4.2" fill="#fff" stroke="#222" stroke-width="1.56"/>
<line x1="590.3" y1="1256.3" x2="596.7" y2="1256.3" stroke="#222" stroke-width="1.56"/>
<line x1="593.5" y1="1253.1" x2="593.5" y2="1259.5" stroke="#222" stroke-width="1.56"/>
<rect x="563.0" y="1266.0" width="3.0" height="6.0" fill="#fff" stroke="#222" stroke-width="1.17" />
<rect x="580.0" y="1266.0" width="3.0" height="6.0" fill="#fff" stroke="#222" stroke-width="1.17" />
<line x1="541.8" y1="1145.3" x2="541.8" y2="1284.0" stroke="#333" stroke-width="1.17"/>
<line x1="560.6" y1="1127.9" x2="560.6" y2="1166.0" stroke="#333" stroke-width="1.17"/>
<line x1="576.0" y1="1127.9" x2="576.0" y2="1166.0" stroke="#333" stroke-width="1.17"/>
<line x1="591.5" y1="1127.9" x2="591.5" y2="1166.0" stroke="#333" stroke-width="1.17"/>
<line x1="607.0" y1="1272.0" x2="607.0" y2="1285.0" stroke="#333" stroke-width="1.04"/>
<text x="532.37" y="1127.20" style='font-family:"Liberation Sans", sans-serif;font-size:10.50px;font-weight:bold;' fill="#1a1a1a" textLength="19.49" lengthAdjust="spacingAndGlyphs">10.4</text>
<line x1="533.0" y1="1130.5" x2="560.0" y2="1130.5" stroke="#333" stroke-width="1.17"/>
<path d="M533.0 1130.5 l4 -1.6 l0 3.2 z" fill="#333" stroke="#333" stroke-width="0.65" />
<path d="M560.0 1130.5 l-4 -1.6 l0 3.2 z" fill="#333" stroke="#333" stroke-width="0.65" />
<text x="598.96" y="1127.50" style='font-family:"Liberation Sans", sans-serif;font-size:10.50px;font-weight:bold;' fill="#1a1a1a" textLength="19.81" lengthAdjust="spacingAndGlyphs">10.3</text>
<line x1="592.0" y1="1131.2" x2="618.4" y2="1131.2" stroke="#333" stroke-width="1.17"/>
<path d="M592.0 1131.2 l4 -1.6 l0 3.2 z" fill="#333" stroke="#333" stroke-width="0.65" />
<path d="M618.4 1131.2 l-4 -1.6 l0 3.2 z" fill="#333" stroke="#333" stroke-width="0.65" />
<text x="509.38" y="1146.00" style='font-family:"Liberation Sans", sans-serif;font-size:10.50px;font-weight:bold;' fill="#1a1a1a" textLength="19.20" lengthAdjust="spacingAndGlyphs">12.1</text>
<line x1="508.0" y1="1148.7" x2="574.7" y2="1148.7" stroke="#333" stroke-width="1.17" stroke-dasharray="3 1"/>
<text x="497.68" y="1203.20" style='font-family:"Liberation Sans", sans-serif;font-size:10.50px;font-weight:bold;' fill="#1a1a1a" textLength="32.93" lengthAdjust="spacingAndGlyphs">5-M3.5</text>
<path d="M498 1204.8 L530.3 1204.8 L547.8 1238.1" fill="none" stroke="#1e1e1e" stroke-width="1.17" />
<text x="499.77" y="1278.40" style='font-family:"Liberation Sans", sans-serif;font-size:10.50px;font-weight:bold;' fill="#1a1a1a" textLength="23.29" lengthAdjust="spacingAndGlyphs">3-M4</text>
<path d="M500 1280 L535.7 1280 L551.8 1259.6" fill="none" stroke="#1e1e1e" stroke-width="1.17" />
<text x="516.99" y="1293.20" style='font-family:"Liberation Sans", sans-serif;font-size:10.50px;font-weight:bold;' fill="#1a1a1a" textLength="19.12" lengthAdjust="spacingAndGlyphs">10.0</text>
<line x1="517.6" y1="1296.0" x2="570.7" y2="1296.0" stroke="#333" stroke-width="1.17" stroke-dasharray="3 1"/>
<line x1="547.0" y1="1262.0" x2="547.0" y2="1300.0" stroke="#333" stroke-width="1.04"/>
<line x1="563.0" y1="1270.0" x2="563.0" y2="1300.0" stroke="#333" stroke-width="1.04"/>
<text x="615.28" y="1293.50" style='font-family:"Liberation Sans", sans-serif;font-size:10.50px;font-weight:bold;' fill="#1a1a1a" textLength="13.58" lengthAdjust="spacingAndGlyphs">7.2</text>
<line x1="587.5" y1="1296.6" x2="637.9" y2="1296.6" stroke="#333" stroke-width="1.17" stroke-dasharray="3 1"/>
<line x1="595.0" y1="1270.0" x2="595.0" y2="1300.0" stroke="#333" stroke-width="1.04"/>
<line x1="606.5" y1="1270.0" x2="606.5" y2="1300.0" stroke="#333" stroke-width="1.04"/>
<text x="567.72" y="1311.40" style='font-family:"Liberation Sans", sans-serif;font-size:10.50px;font-weight:bold;' fill="#1a1a1a">47</text>
<line x1="538.4" y1="1315.4" x2="609.0" y2="1315.4" stroke="#333" stroke-width="1.17"/>
<path d="M538.4 1315.4 l4 -1.6 l0 3.2 z" fill="#333" stroke="#333" stroke-width="0.65" />
<path d="M609.0 1315.4 l-4 -1.6 l0 3.2 z" fill="#333" stroke="#333" stroke-width="0.65" />
<line x1="538.4" y1="1301.3" x2="538.4" y2="1318.8" stroke="#333" stroke-width="1.17"/>
<line x1="609.0" y1="1301.3" x2="609.0" y2="1318.8" stroke="#333" stroke-width="1.17"/>
<line x1="611.0" y1="1195.4" x2="639.2" y2="1195.4" stroke="#333" stroke-width="1.04"/>
<line x1="607.0" y1="1272.4" x2="639.2" y2="1272.4" stroke="#333" stroke-width="1.04"/>
<line x1="635.9" y1="1195.8" x2="635.9" y2="1272.4" stroke="#333" stroke-width="1.17"/>
<path d="M635.9 1195.8 l-1.6 4 l3.2 0 z" fill="#333" stroke="#333" stroke-width="0.65" />
<path d="M635.9 1272.4 l-1.6 -4 l3.2 0 z" fill="#333" stroke="#333" stroke-width="0.65" />
<text x="630.0" y="1238.4" transform="rotate(-90 630.0 1234.7)" style='font-family:"Liberation Sans",sans-serif;font-size:10.5px;font-weight:bold' fill="#1a1a1a" text-anchor="middle">48.5</text>
<text x="815.68" y="1117.40" style='font-family:"Liberation Sans", sans-serif;font-size:10.50px;font-weight:bold;' fill="#1a1a1a">70.0</text>
<line x1="770.7" y1="1119.7" x2="877.3" y2="1119.7" stroke="#333" stroke-width="1.17"/>
<path d="M770.7 1119.7 l4 -1.6 l0 3.2 z" fill="#333" stroke="#333" stroke-width="0.65" />
<path d="M877.3 1119.7 l-4 -1.6 l0 3.2 z" fill="#333" stroke="#333" stroke-width="0.65" />
<text x="827.04" y="1134.00" style='font-family:"Liberation Sans", sans-serif;font-size:10.50px;font-weight:bold;' fill="#1a1a1a">52.0</text>
<line x1="797.9" y1="1136.3" x2="875.8" y2="1136.3" stroke="#333" stroke-width="1.17" stroke-dasharray="3 1"/>
<path d="M797.9 1136.3 l4 -1.6 l0 3.2 z" fill="#333" stroke="#333" stroke-width="0.65" />
<path d="M875.8 1136.3 l-4 -1.6 l0 3.2 z" fill="#333" stroke="#333" stroke-width="0.65" />
<line x1="769.9" y1="1116.6" x2="769.9" y2="1190.8" stroke="#333" stroke-width="1.17"/>
<line x1="877.3" y1="1118.0" x2="877.3" y2="1314.8" stroke="#333" stroke-width="1.30"/>
<line x1="797.1" y1="1133.3" x2="797.1" y2="1157.5" stroke="#333" stroke-width="1.17"/>
<rect x="768.4" y="1190.3" width="107.4" height="52.0" fill="#fff" stroke="#222" stroke-width="1.69" />
<line x1="768.4" y1="1208.2" x2="875.8" y2="1208.2" stroke="#222" stroke-width="1.82"/>
<path d="M770 1189 L790 1181 L800 1181 L803 1186" fill="none" stroke="#1e1e1e" stroke-width="1.30" />
<rect x="794.0" y="1159.0" width="3.8" height="13.6" fill="#fff" stroke="#222" stroke-width="1.30" />
<rect x="792.5" y="1172.6" width="7.0" height="9.0" fill="#fff" stroke="#222" stroke-width="1.30" />
<line x1="800.0" y1="1186.0" x2="875.0" y2="1186.0" stroke="#222" stroke-width="1.17"/>
<rect x="857.0" y="1182.0" width="15.0" height="6.0" fill="#fff" stroke="#222" stroke-width="1.30" />
<rect x="797.0" y="1186.0" width="8.0" height="4.0" fill="#fff" stroke="#222" stroke-width="1.04" />
<rect x="765.0" y="1198.0" width="3.5" height="13.0" fill="#fff" stroke="#222" stroke-width="1.30" />
<rect x="854.0" y="1212.0" width="7.0" height="4.5" fill="none" stroke="#222" stroke-width="1.30" />
<rect x="770.0" y="1242.2" width="22.0" height="5.6" fill="#fff" stroke="#222" stroke-width="1.30" />
<path d="M798 1244 L801 1264 L829 1264 L831 1252 L875.8 1252 L875.8 1242" fill="none" stroke="#1e1e1e" stroke-width="1.43" />
<path d="M804 1244 L807 1262" fill="none" stroke="#1e1e1e" stroke-width="1.17" />
<rect x="785.0" y="1220.0" width="2.4" height="20.0" fill="#fff" stroke="#222" stroke-width="1.30" />
<line x1="780.0" y1="1232.0" x2="792.0" y2="1232.0" stroke="#222" stroke-width="1.17"/>
<rect x="815.0" y="1242.0" width="2.4" height="20.0" fill="#fff" stroke="#222" stroke-width="1.30" />
<line x1="810.0" y1="1250.0" x2="822.0" y2="1250.0" stroke="#222" stroke-width="1.17"/>
<line x1="736.6" y1="1125.7" x2="736.6" y2="1264.9" stroke="#333" stroke-width="1.17"/>
<path d="M736.6 1125.7 l-1.6 4 l3.2 0 z" fill="#333" stroke="#333" stroke-width="0.65" />
<path d="M736.6 1264.9 l-1.6 -4 l3.2 0 z" fill="#333" stroke="#333" stroke-width="0.65" />
<line x1="735.0" y1="1158.2" x2="794.0" y2="1158.2" stroke="#333" stroke-width="1.04"/>
<line x1="735.0" y1="1171.0" x2="793.0" y2="1171.0" stroke="#333" stroke-width="1.04"/>
<line x1="733.6" y1="1265.6" x2="829.0" y2="1265.6" stroke="#333" stroke-width="1.04"/>
<text x="732.0" y="1138.5" transform="rotate(-90 732.0 1134.8)" style='font-family:"Liberation Sans",sans-serif;font-size:10.5px;font-weight:bold' fill="#1a1a1a" text-anchor="middle">8.5</text>
<text x="731.3" y="1221.7" transform="rotate(-90 731.3 1218.0)" style='font-family:"Liberation Sans",sans-serif;font-size:10.5px;font-weight:bold' fill="#1a1a1a" text-anchor="middle">60.5</text>
<text x="833.81" y="1289.80" style='font-family:"Liberation Sans", sans-serif;font-size:10.50px;font-weight:bold;' fill="#1a1a1a">39.5</text>
<line x1="814.5" y1="1292.9" x2="872.8" y2="1292.9" stroke="#333" stroke-width="1.17" stroke-dasharray="3 1"/>
<path d="M814.5 1292.9 l4 -1.6 l0 3.2 z" fill="#333" stroke="#333" stroke-width="0.65" />
<path d="M872.8 1292.9 l-4 -1.6 l0 3.2 z" fill="#333" stroke="#333" stroke-width="0.65" />
<text x="818.74" y="1309.50" style='font-family:"Liberation Sans", sans-serif;font-size:10.50px;font-weight:bold;' fill="#1a1a1a">59.0</text>
<line x1="783.5" y1="1311.8" x2="874.3" y2="1311.8" stroke="#333" stroke-width="1.17"/>
<path d="M783.5 1311.8 l4 -1.6 l0 3.2 z" fill="#333" stroke="#333" stroke-width="0.65" />
<path d="M874.3 1311.8 l-4 -1.6 l0 3.2 z" fill="#333" stroke="#333" stroke-width="0.65" />
<line x1="783.5" y1="1240.7" x2="783.5" y2="1314.8" stroke="#333" stroke-width="1.17"/>
<line x1="814.5" y1="1240.7" x2="814.5" y2="1295.1" stroke="#333" stroke-width="1.17"/>
<rect x="984.4" y="1180.0" width="9.0" height="14.0" fill="#fff" stroke="#222" stroke-width="1.43" />
<path d="M988.4 1180 L991.4 1171 Q992.9 1166 994.4 1166.6 L993.9 1180" fill="none" stroke="#1e1e1e" stroke-width="1.43" />
<rect x="1003.5" y="1180.0" width="9.0" height="14.0" fill="#fff" stroke="#222" stroke-width="1.43" />
<path d="M1007.5 1180 L1010.5 1171 Q1012.0 1166 1013.5 1166.6 L1013.0 1180" fill="none" stroke="#1e1e1e" stroke-width="1.43" />
<rect x="1023.0" y="1180.0" width="9.0" height="14.0" fill="#fff" stroke="#222" stroke-width="1.43" />
<path d="M1027.0 1180 L1030.0 1171 Q1031.5 1166 1033.0 1166.6 L1032.5 1180" fill="none" stroke="#1e1e1e" stroke-width="1.43" />
<rect x="972.6" y="1194.0" width="61.4" height="10.5" fill="#fff" stroke="#222" stroke-width="1.43" />
<rect x="981.0" y="1196.5" width="10.0" height="3.5" fill="#fff" stroke="#222" stroke-width="1.17" />
<rect x="1000.0" y="1196.5" width="10.0" height="3.5" fill="#fff" stroke="#222" stroke-width="1.17" />
<rect x="1020.0" y="1196.5" width="10.0" height="3.5" fill="#fff" stroke="#222" stroke-width="1.17" />
<path d="M1034 1199 L1062 1199 L1062 1204.5" fill="none" stroke="#1e1e1e" stroke-width="1.17" />
<rect x="971.3" y="1204.5" width="90.8" height="69.2" fill="#fff" stroke="#222" stroke-width="1.69" />
<rect x="974.0" y="1208.4" width="84.8" height="37.9" fill="none" stroke="#222" stroke-width="1.56" />
<line x1="971.3" y1="1248.9" x2="1062.1" y2="1248.9" stroke="#222" stroke-width="1.56"/>
<rect x="974.0" y="1250.5" width="84.0" height="21.5" fill="none" stroke="#222" stroke-width="1.17" />
<circle cx="1003.3" cy="1224.7" r="8.5" fill="#fff" stroke="#222" stroke-width="1.69"/>
<rect x="997.8" y="1223.3" width="11.0" height="2.8" fill="none" stroke="#222" stroke-width="1.17" />
<circle cx="1028.2" cy="1224.7" r="8.5" fill="#fff" stroke="#222" stroke-width="1.69"/>
<rect x="1022.7" y="1223.3" width="11.0" height="2.8" fill="none" stroke="#222" stroke-width="1.17" />
<circle cx="985.0" cy="1216.2" r="3" fill="none" stroke="#222" stroke-width="1.30"/>
<circle cx="985.0" cy="1230.6" r="3" fill="none" stroke="#222" stroke-width="1.30"/>
<circle cx="1047.0" cy="1216.9" r="3" fill="none" stroke="#222" stroke-width="1.30"/>
<circle cx="1047.0" cy="1230.6" r="3" fill="none" stroke="#222" stroke-width="1.30"/>
<circle cx="981.1" cy="1262.0" r="5.3" fill="#fff" stroke="#222" stroke-width="1.56"/>
<line x1="976.8" y1="1262.0" x2="985.4" y2="1262.0" stroke="#222" stroke-width="1.56"/>
<line x1="981.1" y1="1257.7" x2="981.1" y2="1266.3" stroke="#222" stroke-width="1.56"/>
<circle cx="998.1" cy="1262.0" r="5.3" fill="#fff" stroke="#222" stroke-width="1.56"/>
<line x1="993.8" y1="1262.0" x2="1002.4" y2="1262.0" stroke="#222" stroke-width="1.56"/>
<line x1="998.1" y1="1257.7" x2="998.1" y2="1266.3" stroke="#222" stroke-width="1.56"/>
<circle cx="1015.1" cy="1262.0" r="5.3" fill="#fff" stroke="#222" stroke-width="1.56"/>
<line x1="1010.8" y1="1262.0" x2="1019.4" y2="1262.0" stroke="#222" stroke-width="1.56"/>
<line x1="1015.1" y1="1257.7" x2="1015.1" y2="1266.3" stroke="#222" stroke-width="1.56"/>
<circle cx="1032.7" cy="1262.0" r="5.3" fill="#fff" stroke="#222" stroke-width="1.56"/>
<line x1="1028.4" y1="1262.0" x2="1037.0" y2="1262.0" stroke="#222" stroke-width="1.56"/>
<line x1="1032.7" y1="1257.7" x2="1032.7" y2="1266.3" stroke="#222" stroke-width="1.56"/>
<circle cx="1049.7" cy="1262.0" r="5.3" fill="#fff" stroke="#222" stroke-width="1.56"/>
<line x1="1045.4" y1="1262.0" x2="1054.0" y2="1262.0" stroke="#222" stroke-width="1.56"/>
<line x1="1049.7" y1="1257.7" x2="1049.7" y2="1266.3" stroke="#222" stroke-width="1.56"/>
<rect x="975.0" y="1273.7" width="81.0" height="30.0" fill="#fff" stroke="#222" stroke-width="1.56" />
<line x1="979.0" y1="1274.0" x2="979.0" y2="1303.0" stroke="#222" stroke-width="1.17"/>
<line x1="1052.0" y1="1274.0" x2="1052.0" y2="1303.0" stroke="#222" stroke-width="1.17"/>
<line x1="979.0" y1="1296.0" x2="1052.0" y2="1296.0" stroke="#222" stroke-width="1.17"/>
<circle cx="990.3" cy="1284.1" r="5.3" fill="#fff" stroke="#222" stroke-width="1.56"/>
<line x1="986.0" y1="1284.1" x2="994.6" y2="1284.1" stroke="#222" stroke-width="1.56"/>
<line x1="990.3" y1="1279.8" x2="990.3" y2="1288.4" stroke="#222" stroke-width="1.56"/>
<circle cx="1014.4" cy="1284.1" r="5.3" fill="#fff" stroke="#222" stroke-width="1.56"/>
<line x1="1010.1" y1="1284.1" x2="1018.7" y2="1284.1" stroke="#222" stroke-width="1.56"/>
<line x1="1014.4" y1="1279.8" x2="1014.4" y2="1288.4" stroke="#222" stroke-width="1.56"/>
<circle cx="1039.3" cy="1284.1" r="5.3" fill="#fff" stroke="#222" stroke-width="1.56"/>
<line x1="1035.0" y1="1284.1" x2="1043.6" y2="1284.1" stroke="#222" stroke-width="1.56"/>
<line x1="1039.3" y1="1279.8" x2="1039.3" y2="1288.4" stroke="#222" stroke-width="1.56"/>
<rect x="999.0" y="1296.0" width="5.0" height="7.5" fill="#fff" stroke="#222" stroke-width="1.17" />
<rect x="1023.0" y="1296.0" width="5.0" height="7.5" fill="#fff" stroke="#222" stroke-width="1.17" />
<line x1="985.7" y1="1119.6" x2="985.7" y2="1173.0" stroke="#333" stroke-width="1.17"/>
<line x1="992.9" y1="1119.6" x2="992.9" y2="1168.0" stroke="#333" stroke-width="1.17"/>
<text x="947.49" y="1118.30" style='font-family:"Liberation Sans", sans-serif;font-size:12.00px;font-weight:bold;' fill="#1a1a1a" textLength="18.98" lengthAdjust="spacingAndGlyphs">3.5</text>
<line x1="945.2" y1="1122.2" x2="1009.2" y2="1122.2" stroke="#333" stroke-width="1.17"/>
<path d="M985.7 1122.2 l-4 -1.6 l0 3.2 z" fill="#333" stroke="#333" stroke-width="0.65" />
<path d="M992.9 1122.2 l4 -1.6 l0 3.2 z" fill="#333" stroke="#333" stroke-width="0.65" />
<text x="1014.91" y="1137.90" style='font-family:"Liberation Sans", sans-serif;font-size:12.00px;font-weight:bold;' fill="#1a1a1a" textLength="17.53" lengthAdjust="spacingAndGlyphs">1.6</text>
<line x1="975.3" y1="1141.5" x2="1036.0" y2="1141.5" stroke="#333" stroke-width="1.17"/>
<path d="M985.7 1141.5 l-4 -1.8 l0 3.6 z" fill="#111" stroke="#111" stroke-width="0.65" />
<path d="M992.9 1141.5 l4 -1.8 l0 3.6 z" fill="#111" stroke="#111" stroke-width="0.65" />
<line x1="73.0" y1="825.2" x2="1120.0" y2="825.2" stroke="#444" stroke-width="1.00" stroke-dasharray="4 1.5"/>
<text x="105.09" y="893.80" style='font-family:"Liberation Sans", sans-serif;font-size:27.20px;' fill="#111" textLength="365.40" lengthAdjust="spacingAndGlyphs">Relè elettronico per contattori</text>
<line x1="98.3" y1="905.1" x2="1143.5" y2="905.1" stroke="#9a3a30" stroke-width="1.80"/>
<text x="355.25" y="935.70" style='font-family:"Liberation Sans", sans-serif;font-size:20.00px;' fill="#111" textLength="270.86" lengthAdjust="spacingAndGlyphs">Tensioni di Alimentazione relè:</text>
<text x="651.16" y="935.70" style='font-family:"Liberation Sans", sans-serif;font-size:20.00px;' fill="#111" textLength="70.49" lengthAdjust="spacingAndGlyphs">24V AC</text>
<text x="749.65" y="935.70" style='font-family:"Liberation Sans", sans-serif;font-size:20.00px;' fill="#111">-</text>
<text x="783.24" y="935.70" style='font-family:"Liberation Sans", sans-serif;font-size:20.00px;' fill="#111" textLength="107.51" lengthAdjust="spacingAndGlyphs">90/260V AC</text>
<text x="920.15" y="935.70" style='font-family:"Liberation Sans", sans-serif;font-size:20.00px;' fill="#111">-</text>
<text x="953.04" y="935.70" style='font-family:"Liberation Sans", sans-serif;font-size:20.00px;' fill="#111" textLength="119.49" lengthAdjust="spacingAndGlyphs">320/480V AC</text>
<text x="510.58" y="976.90" style='font-family:"Liberation Sans", sans-serif;font-size:13.00px;' fill="#1c1c1c" textLength="61.78" lengthAdjust="spacingAndGlyphs">CAMPO DI</text>
<text x="510.05" y="993.10" style='font-family:"Liberation Sans", sans-serif;font-size:13.00px;' fill="#1c1c1c" textLength="100.52" lengthAdjust="spacingAndGlyphs">REGOLAZIONE</text>
<text x="510.60" y="1009.70" style='font-family:"Liberation Sans", sans-serif;font-size:13.00px;' fill="#1c1c1c" textLength="97.46" lengthAdjust="spacingAndGlyphs">&quot;LOAD&quot; ( Amp.)</text>
<text x="361.17" y="1010.80" style='font-family:"Liberation Sans", sans-serif;font-size:13.00px;' fill="#1c1c1c" textLength="36.65" lengthAdjust="spacingAndGlyphs">COD.</text>
<text x="750.59" y="976.90" style='font-family:"Liberation Sans", sans-serif;font-size:13.00px;' fill="#1c1c1c" textLength="70.12" lengthAdjust="spacingAndGlyphs">CAMPO DI</text>
<text x="750.14" y="993.10" style='font-family:"Liberation Sans", sans-serif;font-size:13.00px;' fill="#1c1c1c" textLength="156.43" lengthAdjust="spacingAndGlyphs">RITARDO INTERVENTO</text>
<text x="750.70" y="1009.70" style='font-family:"Liberation Sans", sans-serif;font-size:13.00px;' fill="#1c1c1c" textLength="106.66" lengthAdjust="spacingAndGlyphs">&quot;O-TIME&quot; ( sec. )</text>
<text x="1122.70" y="980.80" style='font-family:"Liberation Sans", sans-serif;font-size:13.00px;' fill="#1c1c1c" textLength="7.69" lengthAdjust="spacingAndGlyphs">€</text>
<text x="1104.58" y="1010.80" style='font-family:"Liberation Sans", sans-serif;font-size:13.00px;' fill="#1c1c1c" textLength="34.51" lengthAdjust="spacingAndGlyphs">CAD.</text>
<line x1="357.0" y1="1020.2" x2="1145.0" y2="1020.2" stroke="#3a3a3a" stroke-width="1.10"/>
<text x="359.45" y="1036.80" style='font-family:"Liberation Sans", sans-serif;font-size:14.60px;' fill="#1c1c1c" textLength="35.31" lengthAdjust="spacingAndGlyphs">SP10</text>
<text x="514.31" y="1036.90" style='font-family:"Liberation Sans", sans-serif;font-size:14.00px;' fill="#1c1c1c" textLength="53.43" lengthAdjust="spacingAndGlyphs">1 ÷ 12 A</text>
<text x="755.31" y="1036.90" style='font-family:"Liberation Sans", sans-serif;font-size:14.00px;' fill="#1c1c1c" textLength="52.21" lengthAdjust="spacingAndGlyphs">0 ÷ 15 s</text>
<text x="1103.13" y="1038.00" style='font-family:"Liberation Sans", sans-serif;font-size:15.50px;font-weight:bold;' fill="#111">78,00</text>
<line x1="357.0" y1="1043.2" x2="1145.0" y2="1043.2" stroke="#3a3a3a" stroke-width="1.10"/>
<text x="359.45" y="1060.90" style='font-family:"Liberation Sans", sans-serif;font-size:14.60px;' fill="#1c1c1c" textLength="35.31" lengthAdjust="spacingAndGlyphs">SP20</text>
<text x="514.68" y="1060.90" style='font-family:"Liberation Sans", sans-serif;font-size:14.00px;' fill="#1c1c1c" textLength="53.06" lengthAdjust="spacingAndGlyphs">2 ÷ 25 A</text>
<text x="755.31" y="1060.90" style='font-family:"Liberation Sans", sans-serif;font-size:14.00px;' fill="#1c1c1c" textLength="52.21" lengthAdjust="spacingAndGlyphs">0 ÷ 15 s</text>
<text x="1103.13" y="1061.60" style='font-family:"Liberation Sans", sans-serif;font-size:15.50px;font-weight:bold;' fill="#111">78,00</text>
<line x1="357.0" y1="1065.9" x2="1145.0" y2="1065.9" stroke="#3a3a3a" stroke-width="1.10"/>
<text transform="translate(72.56 1333.40) scale(0.950 1)" style='font-family:"Liberation Sans", sans-serif;font-size:29.80px;letter-spacing:1.31px;' fill="#1c1c1c">Bobine di comando</text>
<line x1="72.9" y1="1339.9" x2="1118.1" y2="1339.9" stroke="#982a26" stroke-width="2.10"/>
<text x="338.97" y="1370.90" style='font-family:"Liberation Sans", sans-serif;font-size:13.50px;' fill="#1c1c1c" textLength="31.46" lengthAdjust="spacingAndGlyphs">COD.</text>
<text x="1103.19" y="1368.70" style='font-family:"Liberation Sans", sans-serif;font-size:13.50px;' fill="#1c1c1c" textLength="7.80" lengthAdjust="spacingAndGlyphs">€</text>
<text x="1085.06" y="1398.00" style='font-family:"Liberation Sans", sans-serif;font-size:13.50px;' fill="#1c1c1c" textLength="27.03" lengthAdjust="spacingAndGlyphs">CAD</text>
<line x1="331.0" y1="1409.2" x2="1120.0" y2="1409.2" stroke="#444" stroke-width="1.10" stroke-dasharray="8 1"/>
<text x="336.34" y="1425.70" style='font-family:"Liberation Sans", sans-serif;font-size:13.70px;' fill="#1c1c1c" textLength="28.66" lengthAdjust="spacingAndGlyphs">IH13</text>
<rect x="674.5" y="1407.6" width="3.5" height="2.2" fill="#333" />
<text x="336.35" y="1449.00" style='font-family:"Liberation Sans", sans-serif;font-size:13.70px;' fill="#1c1c1c" textLength="28.63" lengthAdjust="spacingAndGlyphs">IH25</text>
<text x="1080.56" y="1426.90" style='font-family:"Liberation Sans", sans-serif;font-size:15.00px;font-weight:bold;' fill="#111">16,00</text>
<text x="1080.56" y="1448.80" style='font-family:"Liberation Sans", sans-serif;font-size:15.00px;font-weight:bold;' fill="#111">19,00</text>
<line x1="331.0" y1="1432.0" x2="1120.0" y2="1432.0" stroke="#3a3a3a" stroke-width="1.10"/>
<line x1="331.0" y1="1454.0" x2="1120.0" y2="1454.0" stroke="#555" stroke-width="1.10" stroke-dasharray="6 1.2"/>
<text transform="translate(336.12 1489.40) scale(0.860 1)" style='font-family:"Liberation Sans", sans-serif;font-size:13.50px;letter-spacing:0.95px;' fill="#1c1c1c">CODICI BOBINE DI COMANDO TABELLA DI SCELTA</text>
<line x1="336.0" y1="1495.6" x2="947.0" y2="1495.6" stroke="#222" stroke-width="1.10"/>
<text transform="translate(339.32 1514.00) scale(0.860 1)" style='font-family:"Liberation Sans", sans-serif;font-size:12.00px;letter-spacing:1.03px;' fill="#1c1c1c">sigla</text>
<text transform="translate(443.23 1513.80) scale(0.860 1)" style='font-family:"Liberation Sans", sans-serif;font-size:12.00px;' fill="#1c1c1c">F</text>
<text transform="translate(502.22 1513.80) scale(0.860 1)" style='font-family:"Liberation Sans", sans-serif;font-size:12.00px;' fill="#1c1c1c">G</text>
<text transform="translate(558.89 1513.80) scale(0.860 1)" style='font-family:"Liberation Sans", sans-serif;font-size:12.00px;' fill="#1c1c1c">D</text>
<text transform="translate(615.57 1513.80) scale(0.860 1)" style='font-family:"Liberation Sans", sans-serif;font-size:12.00px;' fill="#1c1c1c">U</text>
<text transform="translate(690.82 1513.80) scale(0.860 1)" style='font-family:"Liberation Sans", sans-serif;font-size:12.00px;' fill="#1c1c1c">W</text>
<text transform="translate(753.00 1513.80) scale(0.860 1)" style='font-family:"Liberation Sans", sans-serif;font-size:12.00px;' fill="#1c1c1c">B</text>
<line x1="336.0" y1="1523.8" x2="947.0" y2="1523.8" stroke="#444" stroke-width="1.00" stroke-dasharray="5 1.5"/>
<text transform="translate(339.19 1539.90) scale(0.860 1)" style='font-family:"Liberation Sans", sans-serif;font-size:12.00px;letter-spacing:0.79px;' fill="#1c1c1c">50 Hz-V</text>
<text transform="translate(339.08 1561.70) scale(0.860 1)" style='font-family:"Liberation Sans", sans-serif;font-size:12.00px;letter-spacing:0.81px;' fill="#1c1c1c">60 Hz-V</text>
<line x1="336.0" y1="1546.5" x2="415.3" y2="1546.5" stroke="#888" stroke-width="1.00"/>
<text transform="translate(439.94 1550.00) scale(0.950 1)" style='font-family:"Liberation Sans", sans-serif;font-size:12.00px;' fill="#1c1c1c">24</text>
<text transform="translate(499.89 1540.20) scale(0.950 1)" style='font-family:"Liberation Sans", sans-serif;font-size:12.00px;' fill="#1c1c1c">48</text>
<line x1="484.6" y1="1546.5" x2="528.4" y2="1546.5" stroke="#333" stroke-width="1.00"/>
<text transform="translate(499.79 1561.40) scale(0.950 1)" style='font-family:"Liberation Sans", sans-serif;font-size:12.00px;' fill="#1c1c1c">58</text>
<text transform="translate(553.51 1537.80) scale(0.950 1)" style='font-family:"Liberation Sans", sans-serif;font-size:12.00px;' fill="#1c1c1c">110</text>
<text transform="translate(560.25 1550.50) scale(0.860 1)" style='font-family:"Liberation Sans", sans-serif;font-size:10.80px;' fill="#555">÷</text>
<text transform="translate(553.52 1561.90) scale(0.950 1)" style='font-family:"Liberation Sans", sans-serif;font-size:12.00px;' fill="#1c1c1c">115</text>
<text transform="translate(609.72 1537.80) scale(0.950 1)" style='font-family:"Liberation Sans", sans-serif;font-size:12.00px;' fill="#1c1c1c">220</text>
<text transform="translate(616.75 1550.50) scale(0.860 1)" style='font-family:"Liberation Sans", sans-serif;font-size:10.80px;' fill="#555">÷</text>
<text transform="translate(609.72 1561.90) scale(0.950 1)" style='font-family:"Liberation Sans", sans-serif;font-size:12.00px;' fill="#1c1c1c">230</text>
<text transform="translate(685.50 1537.80) scale(0.950 1)" style='font-family:"Liberation Sans", sans-serif;font-size:12.00px;' fill="#1c1c1c">380</text>
<text transform="translate(692.45 1550.50) scale(0.860 1)" style='font-family:"Liberation Sans", sans-serif;font-size:10.80px;' fill="#555">÷</text>
<text transform="translate(685.58 1561.90) scale(0.950 1)" style='font-family:"Liberation Sans", sans-serif;font-size:12.00px;' fill="#1c1c1c">400</text>
<text transform="translate(745.58 1539.60) scale(0.950 1)" style='font-family:"Liberation Sans", sans-serif;font-size:12.00px;' fill="#1c1c1c">440</text>
<line x1="727.0" y1="1545.7" x2="780.6" y2="1545.7" stroke="#555" stroke-width="1.00"/>
<text transform="translate(745.51 1561.20) scale(0.950 1)" style='font-family:"Liberation Sans", sans-serif;font-size:12.00px;' fill="#1c1c1c">528</text>
<line x1="336.0" y1="1567.4" x2="947.0" y2="1567.4" stroke="#222" stroke-width="1.20"/>
<line x1="73.0" y1="1594.3" x2="1120.0" y2="1594.3" stroke="#555" stroke-width="1.00" stroke-dasharray="4 1.5"/>
<line x1="598.0" y1="1622.5" x2="602.0" y2="1622.5" stroke="#333" stroke-width="1.00"/>
<text x="574.95" y="1650.60" style='font-family:"Liberation Serif", serif;font-size:19.50px;' fill="#111" textLength="59.95" lengthAdjust="spacingAndGlyphs">Pag. 46</text>
<g id="photo1">
<defs>
<linearGradient id="cu" x1="0" x2="1"><stop offset="0" stop-color="#b0622c"/><stop offset="0.5" stop-color="#e8a868"/><stop offset="1" stop-color="#a85a28"/></linearGradient>
<linearGradient id="shd" x1="0" y1="0" x2="0" y2="1"><stop offset="0" stop-color="#c8ccd6"/><stop offset="1" stop-color="#f4f5f8"/></linearGradient>
</defs>
<polygon points="143,214 250,206 253,222 200,233 145,232" fill="url(#shd)"/>
<polygon points="127,163 154,153.5 207,143 227.6,141 250,152.4 250.6,160 175.3,172" fill="#242424"/>
<polygon points="127,163 175.3,172 175.3,192 175.3,222 144,218 144,194 127,190" fill="#151515"/>
<polygon points="175.3,172 250.6,156 250.6,211 247,212.4 185.9,228.8 175.3,224" fill="#181818"/>
<polygon points="206.5,138 227.6,137 227.6,152.4 206.5,154" fill="#101010"/>
<polygon points="136.5,170 173,180.6 173.5,207.6 136.5,194.7" fill="#e6e3e3"/>
<g stroke="#666" stroke-width="0.9"><line x1="139" y1="174" x2="171" y2="183.5"/><line x1="155" y1="186" x2="171" y2="190"/></g>
<rect x="143.5" y="180.6" width="10.5" height="10" fill="#d83a3a"/>
<circle cx="160" cy="195.3" r="3" fill="#1e1e1e"/><circle cx="169.4" cy="197.6" r="3" fill="#1e1e1e"/>
<polygon points="190.6,179.4 238.8,163 238.8,192.4 191.2,210" fill="#e2e0e0"/>
<g stroke="#7a7a7a" stroke-width="1.1">
<line x1="193" y1="184" x2="236" y2="169"/><line x1="193" y1="189" x2="236" y2="174"/>
<line x1="193" y1="194" x2="236" y2="179"/><line x1="193" y1="199" x2="236" y2="184"/>
<line x1="193" y1="204" x2="236" y2="189"/>
</g>
<rect x="155.9" y="121.2" width="3.6" height="28" fill="url(#cu)"/>
<path d="M157.7 148 L160.5 152 L160.5 156" stroke="#9a6a40" stroke-width="2.6" fill="none"/>
<rect x="170" y="124.1" width="4.1" height="35" fill="url(#cu)"/>
<rect x="187.6" y="126.5" width="4.2" height="39" fill="url(#cu)"/>
<rect x="163" y="150" width="6" height="14" fill="#0e0e0e"/>
<rect x="180" y="152" width="5" height="12" fill="#0e0e0e"/>
<rect x="196" y="158" width="14" height="4" fill="#5a5238"/>
<circle cx="154" cy="204" r="1.6" fill="#555"/><circle cx="167" cy="208" r="1.3" fill="#666"/>
<rect x="181" y="210" width="1.6" height="5" fill="#777"/><rect x="183.5" y="210" width="1.6" height="5" fill="#777"/>
</g>
<g id="photo2">
<defs><linearGradient id="side2" x1="0" x2="1"><stop offset="0" stop-color="#f0f0f2"/><stop offset="1" stop-color="#a8a8aa"/></linearGradient></defs>
<g fill="#9a9a9a"><rect x="160" y="996" width="3" height="15"/><rect x="192" y="996" width="3" height="15"/><rect x="219" y="998" width="3" height="14"/>
<rect x="159.5" y="1010" width="4.5" height="19"/><rect x="191.5" y="1010" width="4.5" height="19"/><rect x="218.5" y="1011" width="4.5" height="18"/></g>
<g fill="#d8d8d8"><rect x="161" y="996" width="1.2" height="33"/><rect x="193" y="996" width="1.2" height="33"/><rect x="220" y="998" width="1.2" height="31"/></g>
<rect x="139.5" y="1030" width="6" height="104" fill="url(#side2)"/>
<rect x="139.5" y="1030" width="4" height="22" fill="#4a4a4a"/>
<rect x="147" y="1029" width="81" height="23" fill="#262626"/>
<rect x="156" y="1027" width="12" height="6" fill="#222"/><rect x="182.5" y="1027" width="17" height="6" fill="#222"/><rect x="214" y="1027" width="12" height="6" fill="#222"/>
<rect x="171" y="1031" width="9" height="8" fill="#1a1a1a"/><rect x="203" y="1031" width="8" height="8" fill="#1a1a1a"/>
<rect x="147" y="1041" width="81" height="11" fill="#333"/>
<rect x="227.5" y="1037" width="28.5" height="15" fill="#1e1e1e"/><rect x="233" y="1033" width="14" height="5" fill="#2a2a2a"/><rect x="240" y="1041" width="14" height="3" fill="#3a3a3a"/>
<rect x="145.4" y="1051.5" width="117" height="54" fill="#1c1c1c"/>
<rect x="150.3" y="1057.2" width="108.7" height="36.6" fill="#e5dcc0"/>
<circle cx="187.4" cy="1076.3" r="13" fill="#f5f3ee"/><circle cx="187.4" cy="1076.3" r="10.2" fill="#1e1e1e"/>
<circle cx="220.2" cy="1076.3" r="13" fill="#f5f3ee"/><circle cx="220.2" cy="1076.3" r="10.2" fill="#1e1e1e"/>
<line x1="181" y1="1071" x2="193" y2="1081" stroke="#444" stroke-width="1.5"/><line x1="226" y1="1071" x2="214" y2="1081" stroke="#444" stroke-width="1.5"/>
<circle cx="164" cy="1066.5" r="3.8" fill="#2f6a3a"/><circle cx="244.2" cy="1066.5" r="3.8" fill="#a82818"/>
<circle cx="163.6" cy="1082.9" r="4.2" fill="#222"/><circle cx="244.6" cy="1082.4" r="4.2" fill="#222"/>
<rect x="180" y="1089" width="16" height="3" fill="#555"/><rect x="210" y="1089" width="22" height="3" fill="#555"/>
<rect x="151" y="1094" width="108" height="11" fill="#262a28"/>
<path d="M204 1103 L204 1096 L237 1096 M240 1096 L253 1096 L253 1100" stroke="#888" stroke-width="0.8" fill="none"/>
<rect x="151.4" y="1106" width="106.5" height="28" fill="#e2e2e6"/>
<rect x="258" y="1105" width="4.8" height="28" fill="#2a2a2a"/>
<g fill="#151515"><circle cx="159.9" cy="1118.5" r="6.5"/><circle cx="182.3" cy="1118.5" r="6.5"/><circle cx="204.9" cy="1118.5" r="6.5"/><circle cx="227.3" cy="1118.5" r="6.5"/><circle cx="249.2" cy="1118.5" r="6.5"/></g>
<g fill="#b89a60"><rect x="157" y="1122" width="6" height="1.4"/><rect x="179.5" y="1122" width="6" height="1.4"/><rect x="202" y="1122" width="6" height="1.4"/></g>
<rect x="149.2" y="1134" width="7" height="25.5" fill="#3c3c3c"/>
<rect x="155.8" y="1134" width="91.7" height="22.5" fill="#e4e4e8"/>
<rect x="245.3" y="1134" width="4.4" height="25" fill="#3a3a3a"/>
<rect x="189" y="1134" width="7" height="6" fill="#555"/><rect x="210.4" y="1134" width="7.6" height="6" fill="#555"/>
<g fill="#151515"><circle cx="170.5" cy="1141.4" r="6.5"/><circle cx="200.5" cy="1141.4" r="6.5"/><circle cx="230.6" cy="1141.4" r="6.5"/></g>
<rect x="180.9" y="1156" width="6.5" height="3.5" fill="#333"/><rect x="210.4" y="1156" width="7.6" height="3.5" fill="#333"/><rect x="240" y="1156" width="7.5" height="3.5" fill="#333"/>
</g>
<g id="photo3">
<ellipse cx="204" cy="1447" rx="14" ry="3" fill="#d8dbe3"/>
<rect x="137" y="1384" width="58" height="45" rx="5" fill="#141414"/>
<rect x="140" y="1386" width="17" height="41" rx="6" fill="#e6e2de"/>
<g stroke="#b8b0a8" stroke-width="0.9"><line x1="142" y1="1391" x2="156" y2="1391"/><line x1="141" y1="1396" x2="156" y2="1396"/><line x1="141" y1="1401" x2="156" y2="1401"/><line x1="141" y1="1406" x2="156" y2="1406"/><line x1="141" y1="1411" x2="156" y2="1411"/><line x1="141" y1="1416" x2="156" y2="1416"/><line x1="142" y1="1421" x2="156" y2="1421"/></g>
<rect x="157" y="1384" width="10" height="45" fill="#0c0c0c"/>
<rect x="166" y="1398" width="4" height="14" fill="#b8b08a"/>
<polygon points="150,1359 160,1357 173,1359 173,1377 150,1376" fill="#111"/>
<rect x="161" y="1362" width="6" height="4" fill="#b8a870"/>
<rect x="158" y="1375" width="12" height="12" fill="#161616"/>
<rect x="191" y="1375" width="21" height="5" fill="#1a1a1a"/>
<rect x="192" y="1378" width="15" height="18" fill="#141414"/>
<rect x="192" y="1394" width="10" height="54" fill="#111"/>
<rect x="200" y="1432" width="13" height="15" fill="#151515"/>
<rect x="204" y="1437" width="3" height="6" fill="#a89860"/>
</g>
</svg>
</body></html>
